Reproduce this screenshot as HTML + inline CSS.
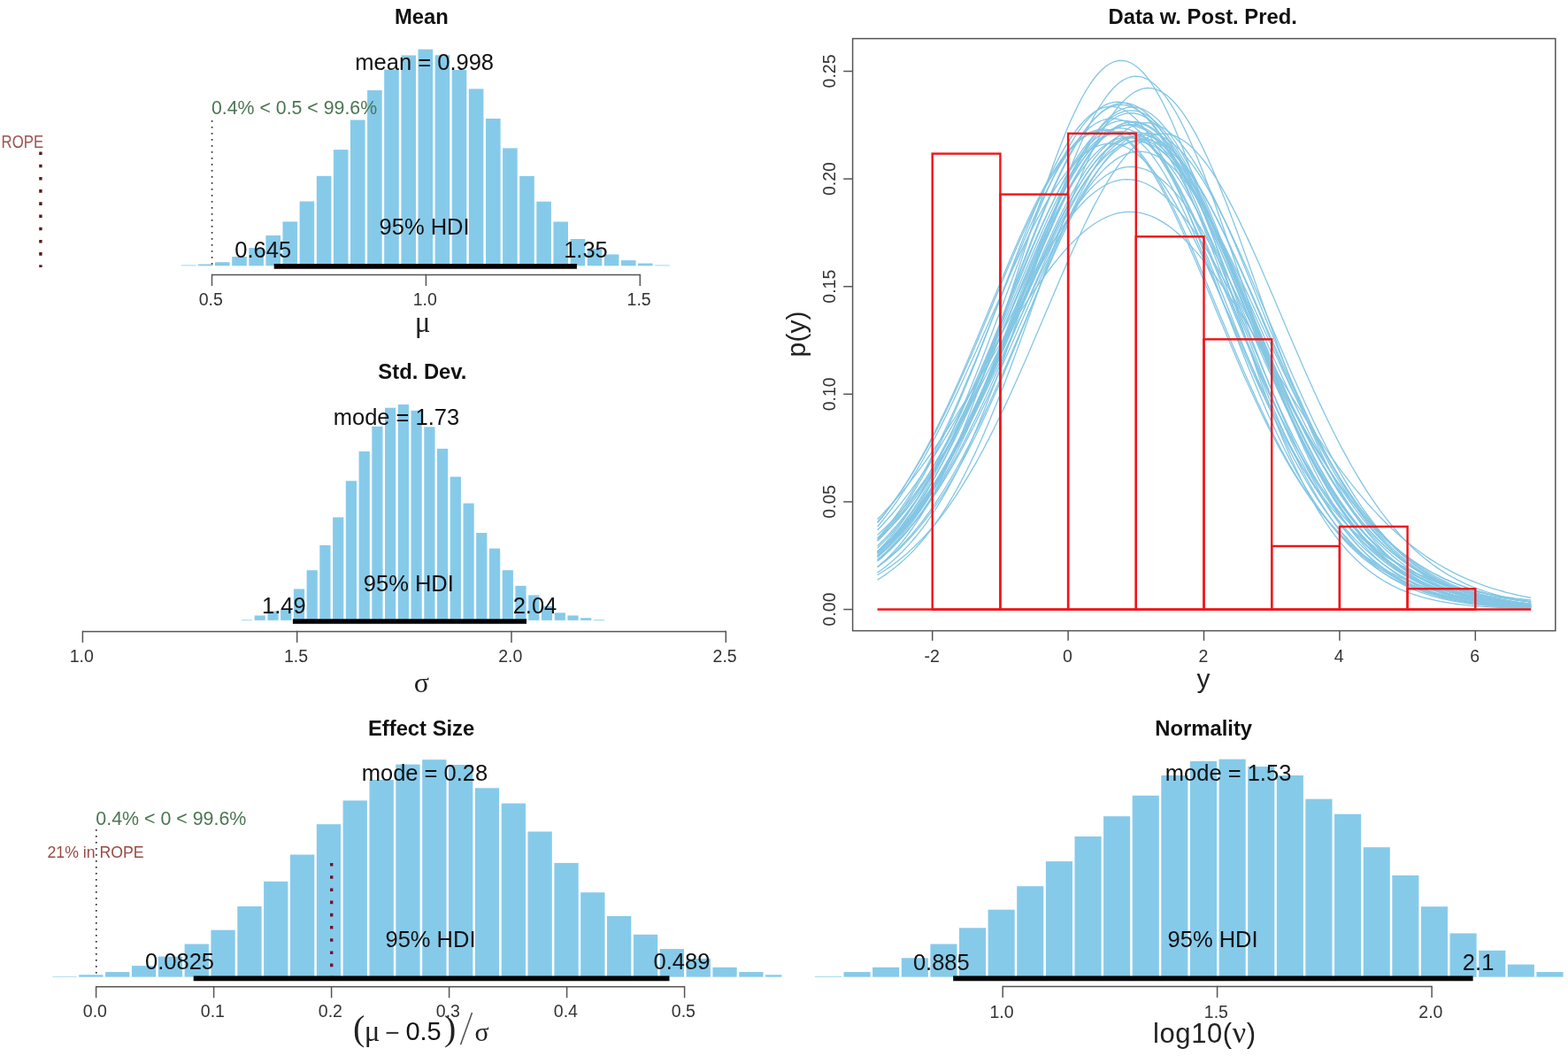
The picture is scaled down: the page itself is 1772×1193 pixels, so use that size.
<!DOCTYPE html>
<html><head><meta charset="utf-8"><title>Posterior plots</title>
<style>html,body{margin:0;padding:0;background:#fff;}svg{display:block;}</style></head>
<body><svg width="1772" height="1193" viewBox="0 0 1772 1193">
<rect width="1772" height="1193" fill="#fff"/>
<text x="476.4" y="26.5" font-size="23.8" text-anchor="middle" font-weight="bold" fill="#111" font-family="'Liberation Sans', Arial, sans-serif" >Mean</text>
<g fill="#86CAEA"><rect x="204.8" y="299.5" width="16.6" height="0.8"/><rect x="223.9" y="298.5" width="16.6" height="1.8"/><rect x="243.0" y="296.2" width="16.6" height="4.1"/><rect x="262.2" y="290.0" width="16.6" height="10.3"/><rect x="281.3" y="280.0" width="16.6" height="20.3"/><rect x="300.4" y="266.0" width="16.6" height="34.3"/><rect x="319.5" y="250.4" width="16.6" height="49.9"/><rect x="338.6" y="227.5" width="16.6" height="72.8"/><rect x="357.8" y="198.8" width="16.6" height="101.5"/><rect x="376.9" y="169.1" width="16.6" height="131.2"/><rect x="396.0" y="135.5" width="16.6" height="164.8"/><rect x="415.1" y="102.0" width="16.6" height="198.3"/><rect x="434.2" y="78.6" width="16.6" height="221.7"/><rect x="453.4" y="62.5" width="16.6" height="237.8"/><rect x="472.5" y="55.7" width="16.6" height="244.6"/><rect x="491.6" y="62.3" width="16.6" height="238.0"/><rect x="510.7" y="79.0" width="16.6" height="221.3"/><rect x="529.8" y="100.4" width="16.6" height="199.9"/><rect x="549.0" y="134.0" width="16.6" height="166.3"/><rect x="568.1" y="167.4" width="16.6" height="132.9"/><rect x="587.2" y="198.9" width="16.6" height="101.4"/><rect x="606.3" y="227.7" width="16.6" height="72.6"/><rect x="625.4" y="250.5" width="16.6" height="49.8"/><rect x="644.6" y="270.0" width="16.6" height="30.3"/><rect x="663.7" y="281.0" width="16.6" height="19.3"/><rect x="682.8" y="287.4" width="16.6" height="12.9"/><rect x="701.9" y="294.1" width="16.6" height="6.2"/><rect x="721.0" y="297.5" width="16.6" height="2.8"/><rect x="740.2" y="299.5" width="16.6" height="0.8"/></g>
<line x1="239.6" y1="136" x2="239.6" y2="300.5" stroke="#333" stroke-width="1.7" stroke-linecap="butt" stroke-dasharray="1.8 5.2"/>
<text x="239.0" y="129" font-size="21.3" text-anchor="start" font-weight="normal" fill="#4a7652" font-family="'Liberation Sans', Arial, sans-serif" >0.4% &lt; 0.5 &lt; 99.6%</text>
<text x="479.7" y="79" font-size="25.5" text-anchor="middle" font-weight="normal" fill="#111" font-family="'Liberation Sans', Arial, sans-serif" >mean = 0.998</text>
<text x="479.6" y="265.1" font-size="25.5" text-anchor="middle" font-weight="normal" fill="#111" font-family="'Liberation Sans', Arial, sans-serif" >95% HDI</text>
<text x="297.2" y="291" font-size="25.5" text-anchor="middle" font-weight="normal" fill="#111" font-family="'Liberation Sans', Arial, sans-serif" >0.645</text>
<text x="662" y="290.7" font-size="25.5" text-anchor="middle" font-weight="normal" fill="#111" font-family="'Liberation Sans', Arial, sans-serif" >1.35</text>
<line x1="309.7" y1="300.8" x2="651.9" y2="300.8" stroke="#000" stroke-width="5.8"/>
<line x1="239.5" y1="310.5" x2="723.3" y2="310.5" stroke="#555" stroke-width="1.5"/>
<line x1="239.5" y1="309.75" x2="239.5" y2="323.0" stroke="#555" stroke-width="1.5" stroke-linecap="butt"/>
<line x1="481.4" y1="309.75" x2="481.4" y2="323.0" stroke="#555" stroke-width="1.5" stroke-linecap="butt"/>
<line x1="723.3" y1="309.75" x2="723.3" y2="323.0" stroke="#555" stroke-width="1.5" stroke-linecap="butt"/>
<text x="238.3" y="345.2" font-size="19.5" text-anchor="middle" font-weight="normal" fill="#333" font-family="'Liberation Sans', Arial, sans-serif" >0.5</text>
<text x="480.2" y="345.2" font-size="19.5" text-anchor="middle" font-weight="normal" fill="#333" font-family="'Liberation Sans', Arial, sans-serif" >1.0</text>
<text x="722.1" y="345.2" font-size="19.5" text-anchor="middle" font-weight="normal" fill="#333" font-family="'Liberation Sans', Arial, sans-serif" >1.5</text>
<text x="477.5" y="374.5" font-size="33" text-anchor="middle" font-weight="normal" fill="#222" font-family="'Liberation Serif', 'Times New Roman', serif" >μ</text>
<text x="1.6" y="166.6" font-size="19.6" text-anchor="start" font-weight="normal" fill="#9a5550" font-family="'Liberation Sans', Arial, sans-serif" textLength="47.5" lengthAdjust="spacingAndGlyphs">ROPE</text>
<line x1="45.9" y1="171.5" x2="45.9" y2="302" stroke="#5a1a1a" stroke-width="3.4" stroke-linecap="butt" stroke-dasharray="3.6 10.6"/>
<text x="477.4" y="427.7" font-size="23.8" text-anchor="middle" font-weight="bold" fill="#111" font-family="'Liberation Sans', Arial, sans-serif" >Std. Dev.</text>
<g fill="#86CAEA"><rect x="272.9" y="700.1" width="12.2" height="0.7"/><rect x="287.6" y="695.4" width="12.2" height="5.4"/><rect x="302.4" y="690.5" width="12.2" height="10.3"/><rect x="317.1" y="687.5" width="12.2" height="13.3"/><rect x="331.9" y="665.4" width="12.2" height="35.4"/><rect x="346.6" y="644.2" width="12.2" height="56.6"/><rect x="361.3" y="616.0" width="12.2" height="84.8"/><rect x="376.1" y="584.4" width="12.2" height="116.4"/><rect x="390.8" y="543.3" width="12.2" height="157.5"/><rect x="405.6" y="510.0" width="12.2" height="190.8"/><rect x="420.3" y="481.8" width="12.2" height="219.0"/><rect x="435.0" y="460.7" width="12.2" height="240.1"/><rect x="449.8" y="456.9" width="12.2" height="243.9"/><rect x="464.5" y="463.8" width="12.2" height="237.0"/><rect x="479.3" y="482.3" width="12.2" height="218.5"/><rect x="494.0" y="506.9" width="12.2" height="193.9"/><rect x="508.7" y="538.6" width="12.2" height="162.2"/><rect x="523.5" y="568.6" width="12.2" height="132.2"/><rect x="538.2" y="602.0" width="12.2" height="98.8"/><rect x="553.0" y="619.6" width="12.2" height="81.2"/><rect x="567.7" y="644.2" width="12.2" height="56.6"/><rect x="582.4" y="661.8" width="12.2" height="39.0"/><rect x="597.2" y="672.4" width="12.2" height="28.4"/><rect x="611.9" y="685.0" width="12.2" height="15.8"/><rect x="626.7" y="692.3" width="12.2" height="8.5"/><rect x="641.4" y="695.4" width="12.2" height="5.4"/><rect x="656.1" y="698.2" width="12.2" height="2.6"/><rect x="670.9" y="700.0" width="12.2" height="0.8"/></g>
<text x="448" y="480.1" font-size="25.5" text-anchor="middle" font-weight="normal" fill="#111" font-family="'Liberation Sans', Arial, sans-serif" >mode = 1.73</text>
<text x="461.8" y="668.4" font-size="25.5" text-anchor="middle" font-weight="normal" fill="#111" font-family="'Liberation Sans', Arial, sans-serif" >95% HDI</text>
<text x="320.8" y="692.5" font-size="25.5" text-anchor="middle" font-weight="normal" fill="#111" font-family="'Liberation Sans', Arial, sans-serif" >1.49</text>
<text x="604.5" y="692.5" font-size="25.5" text-anchor="middle" font-weight="normal" fill="#111" font-family="'Liberation Sans', Arial, sans-serif" >2.04</text>
<line x1="330.9" y1="702" x2="595" y2="702" stroke="#000" stroke-width="5.6"/>
<line x1="93.4" y1="713.4" x2="820.3" y2="713.4" stroke="#555" stroke-width="1.5"/>
<line x1="93.4" y1="712.65" x2="93.4" y2="725.9" stroke="#555" stroke-width="1.5" stroke-linecap="butt"/>
<line x1="335.7" y1="712.65" x2="335.7" y2="725.9" stroke="#555" stroke-width="1.5" stroke-linecap="butt"/>
<line x1="578.0" y1="712.65" x2="578.0" y2="725.9" stroke="#555" stroke-width="1.5" stroke-linecap="butt"/>
<line x1="820.3" y1="712.65" x2="820.3" y2="725.9" stroke="#555" stroke-width="1.5" stroke-linecap="butt"/>
<text x="92.2" y="747.9" font-size="19.5" text-anchor="middle" font-weight="normal" fill="#333" font-family="'Liberation Sans', Arial, sans-serif" >1.0</text>
<text x="334.5" y="747.9" font-size="19.5" text-anchor="middle" font-weight="normal" fill="#333" font-family="'Liberation Sans', Arial, sans-serif" >1.5</text>
<text x="576.8" y="747.9" font-size="19.5" text-anchor="middle" font-weight="normal" fill="#333" font-family="'Liberation Sans', Arial, sans-serif" >2.0</text>
<text x="819.1" y="747.9" font-size="19.5" text-anchor="middle" font-weight="normal" fill="#333" font-family="'Liberation Sans', Arial, sans-serif" >2.5</text>
<text x="476.4" y="781.6" font-size="32" text-anchor="middle" font-weight="normal" fill="#222" font-family="'Liberation Serif', 'Times New Roman', serif" >σ</text>
<text x="476.1" y="831.2" font-size="23.8" text-anchor="middle" font-weight="bold" fill="#111" font-family="'Liberation Sans', Arial, sans-serif" >Effect Size</text>
<g fill="#86CAEA"><rect x="59.4" y="1103.1" width="27.3" height="0.6"/><rect x="89.2" y="1101.3" width="27.3" height="2.4"/><rect x="119.1" y="1098.1" width="27.3" height="5.6"/><rect x="148.9" y="1091.1" width="27.3" height="12.6"/><rect x="178.8" y="1080.6" width="27.3" height="23.1"/><rect x="208.6" y="1066.5" width="27.3" height="37.2"/><rect x="238.4" y="1050.7" width="27.3" height="53.0"/><rect x="268.3" y="1024.0" width="27.3" height="79.7"/><rect x="298.1" y="995.8" width="27.3" height="107.9"/><rect x="328.0" y="965.5" width="27.3" height="138.2"/><rect x="357.8" y="931.2" width="27.3" height="172.5"/><rect x="387.6" y="904.4" width="27.3" height="199.3"/><rect x="417.5" y="881.0" width="27.3" height="222.7"/><rect x="447.3" y="863.6" width="27.3" height="240.1"/><rect x="477.2" y="858.2" width="27.3" height="245.5"/><rect x="507.0" y="864.0" width="27.3" height="239.7"/><rect x="536.8" y="890.3" width="27.3" height="213.4"/><rect x="566.7" y="907.6" width="27.3" height="196.1"/><rect x="596.5" y="939.5" width="27.3" height="164.2"/><rect x="626.4" y="974.9" width="27.3" height="128.8"/><rect x="656.2" y="1008.2" width="27.3" height="95.5"/><rect x="686.0" y="1035.0" width="27.3" height="68.7"/><rect x="715.9" y="1055.8" width="27.3" height="47.9"/><rect x="745.7" y="1072.1" width="27.3" height="31.6"/><rect x="775.6" y="1083.0" width="27.3" height="20.7"/><rect x="805.4" y="1092.8" width="27.3" height="10.9"/><rect x="835.2" y="1098.1" width="27.3" height="5.6"/><rect x="865.1" y="1101.3" width="18.3" height="2.4"/></g>
<line x1="108.8" y1="937" x2="108.8" y2="1104" stroke="#333" stroke-width="1.7" stroke-linecap="butt" stroke-dasharray="1.8 5.2"/>
<text x="108.3" y="931.9" font-size="21.4" text-anchor="start" font-weight="normal" fill="#4a7652" font-family="'Liberation Sans', Arial, sans-serif" >0.4% &lt; 0 &lt; 99.6%</text>
<text x="108.1" y="968.8" font-size="17.7" text-anchor="middle" font-weight="normal" fill="#9a4a44" font-family="'Liberation Sans', Arial, sans-serif" >21% in ROPE</text>
<line x1="374.7" y1="975" x2="374.7" y2="1105" stroke="#6e1530" stroke-width="3.4" stroke-linecap="butt" stroke-dasharray="3.6 10.6"/>
<text x="480" y="882.2" font-size="25.5" text-anchor="middle" font-weight="normal" fill="#111" font-family="'Liberation Sans', Arial, sans-serif" >mode = 0.28</text>
<text x="486.5" y="1069.7" font-size="25.5" text-anchor="middle" font-weight="normal" fill="#111" font-family="'Liberation Sans', Arial, sans-serif" >95% HDI</text>
<text x="203" y="1095.2" font-size="25.5" text-anchor="middle" font-weight="normal" fill="#111" font-family="'Liberation Sans', Arial, sans-serif" >0.0825</text>
<text x="770.5" y="1095.2" font-size="25.5" text-anchor="middle" font-weight="normal" fill="#111" font-family="'Liberation Sans', Arial, sans-serif" >0.489</text>
<line x1="218.7" y1="1105.4" x2="756.5" y2="1105.4" stroke="#000" stroke-width="5.6"/>
<line x1="108.6" y1="1114.8" x2="773.6" y2="1114.8" stroke="#555" stroke-width="1.5"/>
<line x1="108.6" y1="1114.05" x2="108.6" y2="1127.3" stroke="#555" stroke-width="1.5" stroke-linecap="butt"/>
<line x1="241.6" y1="1114.05" x2="241.6" y2="1127.3" stroke="#555" stroke-width="1.5" stroke-linecap="butt"/>
<line x1="374.6" y1="1114.05" x2="374.6" y2="1127.3" stroke="#555" stroke-width="1.5" stroke-linecap="butt"/>
<line x1="507.6" y1="1114.05" x2="507.6" y2="1127.3" stroke="#555" stroke-width="1.5" stroke-linecap="butt"/>
<line x1="640.6" y1="1114.05" x2="640.6" y2="1127.3" stroke="#555" stroke-width="1.5" stroke-linecap="butt"/>
<line x1="773.6" y1="1114.05" x2="773.6" y2="1127.3" stroke="#555" stroke-width="1.5" stroke-linecap="butt"/>
<text x="107.4" y="1149" font-size="19.5" text-anchor="middle" font-weight="normal" fill="#333" font-family="'Liberation Sans', Arial, sans-serif" >0.0</text>
<text x="240.4" y="1149" font-size="19.5" text-anchor="middle" font-weight="normal" fill="#333" font-family="'Liberation Sans', Arial, sans-serif" >0.1</text>
<text x="373.4" y="1149" font-size="19.5" text-anchor="middle" font-weight="normal" fill="#333" font-family="'Liberation Sans', Arial, sans-serif" >0.2</text>
<text x="506.4" y="1149" font-size="19.5" text-anchor="middle" font-weight="normal" fill="#333" font-family="'Liberation Sans', Arial, sans-serif" >0.3</text>
<text x="639.4" y="1149" font-size="19.5" text-anchor="middle" font-weight="normal" fill="#333" font-family="'Liberation Sans', Arial, sans-serif" >0.4</text>
<text x="772.4" y="1149" font-size="19.5" text-anchor="middle" font-weight="normal" fill="#333" font-family="'Liberation Sans', Arial, sans-serif" >0.5</text>
<text x="399" y="1175" font-size="40" font-family="'Liberation Serif', 'Times New Roman', serif" fill="#222" transform="translate(399 1178) scale(1 1.0) translate(-399 -1178)">(</text>
<text x="420.6" y="1175.5" font-size="33" text-anchor="middle" font-weight="normal" fill="#222" font-family="'Liberation Serif', 'Times New Roman', serif" >μ</text>
<text x="443.5" y="1175.5" font-size="28" text-anchor="middle" font-weight="normal" fill="#333" font-family="'Liberation Sans', Arial, sans-serif" >−</text>
<text x="478.6" y="1175.1" font-size="29" text-anchor="middle" font-weight="normal" fill="#111" font-family="'Liberation Sans', Arial, sans-serif" >0.5</text>
<text x="502" y="1175" font-size="40" font-family="'Liberation Serif', 'Times New Roman', serif" fill="#222">)</text>
<line x1="533.5" y1="1144" x2="520.5" y2="1180.2" stroke="#555" stroke-width="1.6"/>
<text x="544.5" y="1175.7" font-size="30" text-anchor="middle" font-weight="normal" fill="#222" font-family="'Liberation Serif', 'Times New Roman', serif" >σ</text>
<text x="1360.2" y="830.5" font-size="23.8" text-anchor="middle" font-weight="bold" fill="#111" font-family="'Liberation Sans', Arial, sans-serif" >Normality</text>
<g fill="#86CAEA"><rect x="920.9" y="1103.0" width="30.1" height="0.7"/><rect x="953.5" y="1098.1" width="30.1" height="5.6"/><rect x="986.1" y="1092.8" width="30.1" height="10.9"/><rect x="1018.8" y="1082.3" width="30.1" height="21.4"/><rect x="1051.4" y="1066.5" width="30.1" height="37.2"/><rect x="1084.0" y="1048.3" width="30.1" height="55.4"/><rect x="1116.6" y="1027.7" width="30.1" height="76.0"/><rect x="1149.2" y="1001.2" width="30.1" height="102.5"/><rect x="1181.9" y="973.1" width="30.1" height="130.6"/><rect x="1214.5" y="945.0" width="30.1" height="158.7"/><rect x="1247.1" y="922.2" width="30.1" height="181.5"/><rect x="1279.7" y="898.8" width="30.1" height="204.9"/><rect x="1312.3" y="876.0" width="30.1" height="227.7"/><rect x="1345.0" y="860.0" width="30.1" height="243.7"/><rect x="1377.6" y="857.7" width="30.1" height="246.0"/><rect x="1410.2" y="866.0" width="30.1" height="237.7"/><rect x="1442.8" y="876.0" width="30.1" height="227.7"/><rect x="1475.4" y="902.7" width="30.1" height="201.0"/><rect x="1508.1" y="919.7" width="30.1" height="184.0"/><rect x="1540.7" y="957.2" width="30.1" height="146.5"/><rect x="1573.3" y="989.0" width="30.1" height="114.7"/><rect x="1605.9" y="1024.2" width="30.1" height="79.5"/><rect x="1638.5" y="1054.4" width="30.1" height="49.3"/><rect x="1671.2" y="1073.8" width="30.1" height="29.9"/><rect x="1703.8" y="1089.6" width="30.1" height="14.1"/><rect x="1736.4" y="1098.1" width="30.1" height="5.6"/></g>
<text x="1388.1" y="881.8" font-size="25.5" text-anchor="middle" font-weight="normal" fill="#111" font-family="'Liberation Sans', Arial, sans-serif" >mode = 1.53</text>
<text x="1370.6" y="1069.7" font-size="25.5" text-anchor="middle" font-weight="normal" fill="#111" font-family="'Liberation Sans', Arial, sans-serif" >95% HDI</text>
<text x="1063.8" y="1095.7" font-size="25.5" text-anchor="middle" font-weight="normal" fill="#111" font-family="'Liberation Sans', Arial, sans-serif" >0.885</text>
<text x="1670.6" y="1095.7" font-size="25.5" text-anchor="middle" font-weight="normal" fill="#111" font-family="'Liberation Sans', Arial, sans-serif" >2.1</text>
<line x1="1077.2" y1="1105.4" x2="1664.6" y2="1105.4" stroke="#000" stroke-width="5.6"/>
<line x1="1133.2" y1="1114.6" x2="1618.1" y2="1114.6" stroke="#555" stroke-width="1.5"/>
<line x1="1133.2" y1="1113.85" x2="1133.2" y2="1127.1" stroke="#555" stroke-width="1.5" stroke-linecap="butt"/>
<line x1="1375.6" y1="1113.85" x2="1375.6" y2="1127.1" stroke="#555" stroke-width="1.5" stroke-linecap="butt"/>
<line x1="1618.1" y1="1113.85" x2="1618.1" y2="1127.1" stroke="#555" stroke-width="1.5" stroke-linecap="butt"/>
<text x="1132.0" y="1149.8" font-size="19.5" text-anchor="middle" font-weight="normal" fill="#333" font-family="'Liberation Sans', Arial, sans-serif" >1.0</text>
<text x="1374.4" y="1149.8" font-size="19.5" text-anchor="middle" font-weight="normal" fill="#333" font-family="'Liberation Sans', Arial, sans-serif" >1.5</text>
<text x="1616.9" y="1149.8" font-size="19.5" text-anchor="middle" font-weight="normal" fill="#333" font-family="'Liberation Sans', Arial, sans-serif" >2.0</text>
<text x="1303.0" y="1177.9" font-size="31" textLength="116" lengthAdjust="spacing" fill="#222" font-family="'Liberation Sans', Arial, sans-serif">log10(<tspan font-family="'Liberation Serif', 'Times New Roman', serif" font-size="34">ν</tspan>)</text>
<text x="1359.2" y="26.8" font-size="23.8" text-anchor="middle" font-weight="bold" fill="#111" font-family="'Liberation Sans', Arial, sans-serif" >Data w. Post. Pred.</text>
<g fill="none" stroke="#84c6e4" stroke-width="1.3"><polyline points="991.6,640.8 996.2,636.8 1000.8,632.6 1005.4,628.0 1010.0,623.1 1014.7,618.0 1019.3,612.5 1023.9,606.7 1028.5,600.5 1033.1,594.0 1037.7,587.1 1042.4,579.8 1047.0,572.2 1051.6,564.1 1056.2,555.7 1060.8,546.8 1065.4,537.6 1070.1,528.0 1074.7,517.9 1079.3,507.5 1083.9,496.6 1088.5,485.4 1093.1,473.8 1097.7,461.8 1102.4,449.5 1107.0,436.8 1111.6,423.9 1116.2,410.6 1120.8,397.1 1125.4,383.3 1130.1,369.3 1134.7,355.2 1139.3,340.9 1143.9,326.5 1148.5,312.0 1153.1,297.5 1157.8,283.1 1162.4,268.7 1167.0,254.4 1171.6,240.3 1176.2,226.5 1180.8,212.9 1185.5,199.6 1190.1,186.7 1194.7,174.2 1199.3,162.2 1203.9,150.7 1208.5,139.8 1213.2,129.6 1217.8,119.9 1222.4,111.0 1227.0,102.9 1231.6,95.5 1236.2,89.0 1240.9,83.3 1245.5,78.5 1250.1,74.6 1254.7,71.7 1259.3,69.6 1263.9,68.5 1268.6,68.4 1273.2,69.2 1277.8,71.0 1282.4,73.7 1287.0,77.3 1291.6,81.8 1296.3,87.3 1300.9,93.5 1305.5,100.7 1310.1,108.6 1314.7,117.3 1319.3,126.7 1324.0,136.7 1328.6,147.5 1333.2,158.8 1337.8,170.6 1342.4,183.0 1347.0,195.8 1351.7,208.9 1356.3,222.4 1360.9,236.2 1365.5,250.3 1370.1,264.5 1374.7,278.8 1379.3,293.3 1384.0,307.8 1388.6,322.2 1393.2,336.6 1397.8,351.0 1402.4,365.2 1407.0,379.2 1411.7,393.0 1416.3,406.6 1420.9,420.0 1425.5,433.0 1430.1,445.8 1434.7,458.2 1439.4,470.3 1444.0,482.0 1448.6,493.4 1453.2,504.3 1457.8,514.9 1462.4,525.0 1467.1,534.8 1471.7,544.2 1476.3,553.1 1480.9,561.7 1485.5,569.8 1490.1,577.6 1494.8,585.0 1499.4,592.0 1504.0,598.6 1508.6,604.9 1513.2,610.8 1517.8,616.4 1522.5,621.7 1527.1,626.6 1531.7,631.2 1536.3,635.6 1540.9,639.7 1545.5,643.5 1550.2,647.0 1554.8,650.3 1559.4,653.4 1564.0,656.3 1568.6,658.9 1573.2,661.4 1577.9,663.7 1582.5,665.8 1587.1,667.7 1591.7,669.5 1596.3,671.2 1600.9,672.7 1605.6,674.1 1610.2,675.4 1614.8,676.6 1619.4,677.7 1624.0,678.7 1628.6,679.6 1633.2,680.4 1637.9,681.2 1642.5,681.9 1647.1,682.5 1651.7,683.1 1656.3,683.6 1660.9,684.1 1665.6,684.5 1670.2,684.9 1674.8,685.3 1679.4,685.6 1684.0,685.9 1688.6,686.2 1693.3,686.4 1697.9,686.6 1702.5,686.8 1707.1,687.0 1711.7,687.1 1716.3,687.3 1721.0,687.4 1725.6,687.5 1730.2,687.6"/><polyline points="991.6,646.9 996.2,643.7 1000.8,640.2 1005.4,636.4 1010.0,632.4 1014.7,628.2 1019.3,623.7 1023.9,618.9 1028.5,613.9 1033.1,608.5 1037.7,602.9 1042.4,596.9 1047.0,590.6 1051.6,583.9 1056.2,577.0 1060.8,569.6 1065.4,561.9 1070.1,553.9 1074.7,545.5 1079.3,536.7 1083.9,527.5 1088.5,518.0 1093.1,508.2 1097.7,497.9 1102.4,487.3 1107.0,476.4 1111.6,465.1 1116.2,453.5 1120.8,441.6 1125.4,429.4 1130.1,416.9 1134.7,404.2 1139.3,391.3 1143.9,378.1 1148.5,364.8 1153.1,351.3 1157.8,337.7 1162.4,324.1 1167.0,310.4 1171.6,296.8 1176.2,283.1 1180.8,269.6 1185.5,256.2 1190.1,243.0 1194.7,230.1 1199.3,217.4 1203.9,205.0 1208.5,193.0 1213.2,181.5 1217.8,170.3 1222.4,159.8 1227.0,149.7 1231.6,140.3 1236.2,131.5 1240.9,123.4 1245.5,116.0 1250.1,109.4 1254.7,103.5 1259.3,98.5 1263.9,94.3 1268.6,90.9 1273.2,88.5 1277.8,86.8 1282.4,86.1 1287.0,86.3 1291.6,87.4 1296.3,89.3 1300.9,92.2 1305.5,95.9 1310.1,100.4 1314.7,105.8 1319.3,111.9 1324.0,118.9 1328.6,126.5 1333.2,134.9 1337.8,144.0 1342.4,153.6 1347.0,163.9 1351.7,174.7 1356.3,186.0 1360.9,197.7 1365.5,209.9 1370.1,222.4 1374.7,235.2 1379.3,248.2 1384.0,261.5 1388.6,275.0 1393.2,288.5 1397.8,302.2 1402.4,315.8 1407.0,329.5 1411.7,343.1 1416.3,356.7 1420.9,370.1 1425.5,383.3 1430.1,396.4 1434.7,409.3 1439.4,421.9 1444.0,434.3 1448.6,446.4 1453.2,458.1 1457.8,469.6 1462.4,480.8 1467.1,491.6 1471.7,502.0 1476.3,512.1 1480.9,521.8 1485.5,531.2 1490.1,540.2 1494.8,548.8 1499.4,557.1 1504.0,565.0 1508.6,572.6 1513.2,579.8 1517.8,586.6 1522.5,593.1 1527.1,599.3 1531.7,605.1 1536.3,610.7 1540.9,615.9 1545.5,620.9 1550.2,625.5 1554.8,629.9 1559.4,634.1 1564.0,637.9 1568.6,641.6 1573.2,645.0 1577.9,648.2 1582.5,651.2 1587.1,654.0 1591.7,656.6 1596.3,659.0 1600.9,661.3 1605.6,663.4 1610.2,665.3 1614.8,667.2 1619.4,668.8 1624.0,670.4 1628.6,671.9 1633.2,673.2 1637.9,674.5 1642.5,675.6 1647.1,676.7 1651.7,677.6 1656.3,678.5 1660.9,679.4 1665.6,680.1 1670.2,680.9 1674.8,681.5 1679.4,682.1 1684.0,682.7 1688.6,683.2 1693.3,683.6 1697.9,684.0 1702.5,684.4 1707.1,684.8 1711.7,685.1 1716.3,685.4 1721.0,685.7 1725.6,685.9 1730.2,686.2"/><polyline points="991.6,655.1 996.2,652.2 1000.8,649.1 1005.4,645.8 1010.0,642.3 1014.7,638.6 1019.3,634.6 1023.9,630.4 1028.5,625.9 1033.1,621.1 1037.7,616.0 1042.4,610.7 1047.0,605.0 1051.6,599.0 1056.2,592.7 1060.8,586.1 1065.4,579.1 1070.1,571.8 1074.7,564.2 1079.3,556.2 1083.9,547.9 1088.5,539.2 1093.1,530.2 1097.7,520.8 1102.4,511.1 1107.0,501.1 1111.6,490.7 1116.2,480.0 1120.8,469.1 1125.4,457.8 1130.1,446.2 1134.7,434.4 1139.3,422.3 1143.9,410.1 1148.5,397.6 1153.1,385.0 1157.8,372.2 1162.4,359.3 1167.0,346.3 1171.6,333.2 1176.2,320.2 1180.8,307.1 1185.5,294.2 1190.1,281.3 1194.7,268.5 1199.3,255.9 1203.9,243.6 1208.5,231.4 1213.2,219.6 1217.8,208.2 1222.4,197.1 1227.0,186.4 1231.6,176.2 1236.2,166.4 1240.9,157.3 1245.5,148.6 1250.1,140.6 1254.7,133.2 1259.3,126.5 1263.9,120.5 1268.6,115.2 1273.2,110.7 1277.8,106.9 1282.4,103.8 1287.0,101.6 1291.6,100.1 1296.3,99.5 1300.9,99.7 1305.5,100.6 1310.1,102.4 1314.7,105.0 1319.3,108.3 1324.0,112.5 1328.6,117.3 1333.2,122.9 1337.8,129.2 1342.4,136.2 1347.0,143.9 1351.7,152.1 1356.3,161.0 1360.9,170.4 1365.5,180.3 1370.1,190.8 1374.7,201.6 1379.3,212.9 1384.0,224.5 1388.6,236.4 1393.2,248.7 1397.8,261.1 1402.4,273.8 1407.0,286.6 1411.7,299.5 1416.3,312.5 1420.9,325.6 1425.5,338.6 1430.1,351.7 1434.7,364.6 1439.4,377.5 1444.0,390.2 1448.6,402.8 1453.2,415.2 1457.8,427.4 1462.4,439.3 1467.1,451.0 1471.7,462.5 1476.3,473.6 1480.9,484.5 1485.5,495.1 1490.1,505.3 1494.8,515.2 1499.4,524.8 1504.0,534.0 1508.6,542.9 1513.2,551.4 1517.8,559.6 1522.5,567.4 1527.1,574.9 1531.7,582.1 1536.3,588.9 1540.9,595.4 1545.5,601.5 1550.2,607.4 1554.8,612.9 1559.4,618.2 1564.0,623.1 1568.6,627.8 1573.2,632.2 1577.9,636.3 1582.5,640.2 1587.1,643.8 1591.7,647.2 1596.3,650.4 1600.9,653.4 1605.6,656.2 1610.2,658.8 1614.8,661.2 1619.4,663.4 1624.0,665.5 1628.6,667.4 1633.2,669.2 1637.9,670.9 1642.5,672.4 1647.1,673.8 1651.7,675.1 1656.3,676.3 1660.9,677.4 1665.6,678.4 1670.2,679.3 1674.8,680.2 1679.4,680.9 1684.0,681.6 1688.6,682.3 1693.3,682.9 1697.9,683.4 1702.5,683.9 1707.1,684.4 1711.7,684.8 1716.3,685.1 1721.0,685.5 1725.6,685.8 1730.2,686.1"/><polyline points="991.6,610.4 996.2,605.3 1000.8,600.0 1005.4,594.4 1010.0,588.5 1014.7,582.3 1019.3,575.9 1023.9,569.1 1028.5,562.1 1033.1,554.7 1037.7,547.0 1042.4,539.1 1047.0,530.8 1051.6,522.2 1056.2,513.3 1060.8,504.2 1065.4,494.7 1070.1,484.9 1074.7,474.9 1079.3,464.5 1083.9,453.9 1088.5,443.1 1093.1,432.0 1097.7,420.8 1102.4,409.3 1107.0,397.6 1111.6,385.8 1116.2,373.9 1120.8,361.9 1125.4,349.7 1130.1,337.6 1134.7,325.4 1139.3,313.3 1143.9,301.2 1148.5,289.1 1153.1,277.3 1157.8,265.5 1162.4,254.0 1167.0,242.7 1171.6,231.7 1176.2,221.0 1180.8,210.7 1185.5,200.7 1190.1,191.2 1194.7,182.1 1199.3,173.6 1203.9,165.6 1208.5,158.1 1213.2,151.3 1217.8,145.0 1222.4,139.5 1227.0,134.6 1231.6,130.4 1236.2,126.9 1240.9,124.2 1245.5,122.1 1250.1,120.9 1254.7,120.4 1259.3,120.7 1263.9,121.7 1268.6,123.5 1273.2,126.0 1277.8,129.2 1282.4,133.2 1287.0,137.9 1291.6,143.2 1296.3,149.3 1300.9,155.9 1305.5,163.2 1310.1,171.0 1314.7,179.4 1319.3,188.3 1324.0,197.7 1328.6,207.5 1333.2,217.8 1337.8,228.4 1342.4,239.3 1347.0,250.5 1351.7,261.9 1356.3,273.6 1360.9,285.4 1365.5,297.4 1370.1,309.5 1374.7,321.6 1379.3,333.8 1384.0,346.0 1388.6,358.1 1393.2,370.2 1397.8,382.1 1402.4,394.0 1407.0,405.7 1411.7,417.2 1416.3,428.6 1420.9,439.7 1425.5,450.6 1430.1,461.3 1434.7,471.7 1439.4,481.8 1444.0,491.7 1448.6,501.3 1453.2,510.5 1457.8,519.5 1462.4,528.2 1467.1,536.6 1471.7,544.6 1476.3,552.4 1480.9,559.8 1485.5,567.0 1490.1,573.8 1494.8,580.4 1499.4,586.6 1504.0,592.6 1508.6,598.3 1513.2,603.7 1517.8,608.8 1522.5,613.7 1527.1,618.4 1531.7,622.8 1536.3,626.9 1540.9,630.9 1545.5,634.6 1550.2,638.1 1554.8,641.4 1559.4,644.6 1564.0,647.5 1568.6,650.3 1573.2,652.9 1577.9,655.3 1582.5,657.6 1587.1,659.8 1591.7,661.8 1596.3,663.6 1600.9,665.4 1605.6,667.1 1610.2,668.6 1614.8,670.0 1619.4,671.4 1624.0,672.6 1628.6,673.8 1633.2,674.9 1637.9,675.9 1642.5,676.8 1647.1,677.7 1651.7,678.5 1656.3,679.3 1660.9,680.0 1665.6,680.6 1670.2,681.2 1674.8,681.8 1679.4,682.3 1684.0,682.8 1688.6,683.2 1693.3,683.6 1697.9,684.0 1702.5,684.3 1707.1,684.7 1711.7,685.0 1716.3,685.2 1721.0,685.5 1725.6,685.7 1730.2,686.0"/><polyline points="991.6,598.8 996.2,594.0 1000.8,589.0 1005.4,583.8 1010.0,578.5 1014.7,572.9 1019.3,567.2 1023.9,561.2 1028.5,555.1 1033.1,548.8 1037.7,542.3 1042.4,535.6 1047.0,528.7 1051.6,521.6 1056.2,514.4 1060.8,506.9 1065.4,499.3 1070.1,491.6 1074.7,483.7 1079.3,475.6 1083.9,467.4 1088.5,459.1 1093.1,450.7 1097.7,442.2 1102.4,433.5 1107.0,424.8 1111.6,416.0 1116.2,407.2 1120.8,398.4 1125.4,389.5 1130.1,380.6 1134.7,371.7 1139.3,362.8 1143.9,354.0 1148.5,345.3 1153.1,336.7 1157.8,328.1 1162.4,319.7 1167.0,311.4 1171.6,303.3 1176.2,295.4 1180.8,287.7 1185.5,280.2 1190.1,272.9 1194.7,265.9 1199.3,259.2 1203.9,252.8 1208.5,246.7 1213.2,240.9 1217.8,235.5 1222.4,230.5 1227.0,225.8 1231.6,221.6 1236.2,217.7 1240.9,214.3 1245.5,211.3 1250.1,208.7 1254.7,206.5 1259.3,204.9 1263.9,203.6 1268.6,202.9 1273.2,202.6 1277.8,202.8 1282.4,203.4 1287.0,204.5 1291.6,206.0 1296.3,208.0 1300.9,210.5 1305.5,213.4 1310.1,216.7 1314.7,220.4 1319.3,224.6 1324.0,229.1 1328.6,234.1 1333.2,239.4 1337.8,245.0 1342.4,251.0 1347.0,257.3 1351.7,264.0 1356.3,270.9 1360.9,278.1 1365.5,285.5 1370.1,293.2 1374.7,301.0 1379.3,309.1 1384.0,317.3 1388.6,325.7 1393.2,334.2 1397.8,342.8 1402.4,351.5 1407.0,360.3 1411.7,369.2 1416.3,378.0 1420.9,386.9 1425.5,395.8 1430.1,404.7 1434.7,413.5 1439.4,422.3 1444.0,431.1 1448.6,439.7 1453.2,448.3 1457.8,456.7 1462.4,465.1 1467.1,473.3 1471.7,481.4 1476.3,489.4 1480.9,497.2 1485.5,504.8 1490.1,512.3 1494.8,519.6 1499.4,526.7 1504.0,533.6 1508.6,540.4 1513.2,546.9 1517.8,553.3 1522.5,559.5 1527.1,565.5 1531.7,571.3 1536.3,576.9 1540.9,582.3 1545.5,587.5 1550.2,592.6 1554.8,597.4 1559.4,602.1 1564.0,606.5 1568.6,610.8 1573.2,615.0 1577.9,618.9 1582.5,622.7 1587.1,626.3 1591.7,629.7 1596.3,633.0 1600.9,636.2 1605.6,639.2 1610.2,642.0 1614.8,644.7 1619.4,647.3 1624.0,649.7 1628.6,652.1 1633.2,654.3 1637.9,656.4 1642.5,658.3 1647.1,660.2 1651.7,662.0 1656.3,663.6 1660.9,665.2 1665.6,666.7 1670.2,668.1 1674.8,669.4 1679.4,670.7 1684.0,671.9 1688.6,673.0 1693.3,674.0 1697.9,675.0 1702.5,675.9 1707.1,676.7 1711.7,677.5 1716.3,678.3 1721.0,679.0 1725.6,679.7 1730.2,680.3"/><polyline points="991.6,586.7 996.2,581.9 1000.8,577.0 1005.4,571.9 1010.0,566.7 1014.7,561.3 1019.3,555.8 1023.9,550.1 1028.5,544.3 1033.1,538.3 1037.7,532.2 1042.4,525.9 1047.0,519.5 1051.6,513.0 1056.2,506.4 1060.8,499.6 1065.4,492.7 1070.1,485.7 1074.7,478.6 1079.3,471.5 1083.9,464.2 1088.5,456.8 1093.1,449.4 1097.7,442.0 1102.4,434.4 1107.0,426.9 1111.6,419.3 1116.2,411.7 1120.8,404.1 1125.4,396.5 1130.1,389.0 1134.7,381.4 1139.3,374.0 1143.9,366.5 1148.5,359.2 1153.1,352.0 1157.8,344.8 1162.4,337.8 1167.0,330.9 1171.6,324.2 1176.2,317.6 1180.8,311.2 1185.5,305.0 1190.1,299.0 1194.7,293.3 1199.3,287.7 1203.9,282.4 1208.5,277.4 1213.2,272.6 1217.8,268.1 1222.4,263.9 1227.0,260.0 1231.6,256.5 1236.2,253.2 1240.9,250.3 1245.5,247.7 1250.1,245.4 1254.7,243.5 1259.3,241.9 1263.9,240.7 1268.6,239.9 1273.2,239.4 1277.8,239.3 1282.4,239.6 1287.0,240.2 1291.6,241.2 1296.3,242.5 1300.9,244.2 1305.5,246.2 1310.1,248.6 1314.7,251.4 1319.3,254.4 1324.0,257.8 1328.6,261.5 1333.2,265.5 1337.8,269.8 1342.4,274.4 1347.0,279.3 1351.7,284.4 1356.3,289.8 1360.9,295.5 1365.5,301.3 1370.1,307.4 1374.7,313.7 1379.3,320.2 1384.0,326.8 1388.6,333.6 1393.2,340.5 1397.8,347.6 1402.4,354.8 1407.0,362.0 1411.7,369.4 1416.3,376.8 1420.9,384.3 1425.5,391.9 1430.1,399.5 1434.7,407.0 1439.4,414.6 1444.0,422.2 1448.6,429.8 1453.2,437.3 1457.8,444.9 1462.4,452.3 1467.1,459.7 1471.7,467.0 1476.3,474.2 1480.9,481.4 1485.5,488.5 1490.1,495.4 1494.8,502.2 1499.4,509.0 1504.0,515.6 1508.6,522.0 1513.2,528.4 1517.8,534.6 1522.5,540.6 1527.1,546.6 1531.7,552.3 1536.3,557.9 1540.9,563.4 1545.5,568.7 1550.2,573.9 1554.8,578.9 1559.4,583.8 1564.0,588.5 1568.6,593.1 1573.2,597.5 1577.9,601.7 1582.5,605.8 1587.1,609.8 1591.7,613.6 1596.3,617.3 1600.9,620.8 1605.6,624.2 1610.2,627.5 1614.8,630.6 1619.4,633.6 1624.0,636.5 1628.6,639.2 1633.2,641.9 1637.9,644.4 1642.5,646.8 1647.1,649.1 1651.7,651.3 1656.3,653.3 1660.9,655.3 1665.6,657.2 1670.2,659.0 1674.8,660.7 1679.4,662.3 1684.0,663.9 1688.6,665.3 1693.3,666.7 1697.9,668.0 1702.5,669.3 1707.1,670.4 1711.7,671.5 1716.3,672.6 1721.0,673.6 1725.6,674.5 1730.2,675.4"/><polyline points="991.6,589.7 996.2,584.3 1000.8,578.6 1005.4,572.7 1010.0,566.5 1014.7,560.0 1019.3,553.3 1023.9,546.4 1028.5,539.2 1033.1,531.7 1037.7,523.9 1042.4,515.9 1047.0,507.6 1051.6,499.1 1056.2,490.3 1060.8,481.3 1065.4,472.0 1070.1,462.5 1074.7,452.7 1079.3,442.8 1083.9,432.6 1088.5,422.3 1093.1,411.8 1097.7,401.2 1102.4,390.4 1107.0,379.5 1111.6,368.5 1116.2,357.5 1120.8,346.4 1125.4,335.3 1130.1,324.2 1134.7,313.2 1139.3,302.2 1143.9,291.4 1148.5,280.7 1153.1,270.2 1157.8,259.9 1162.4,249.9 1167.0,240.1 1171.6,230.6 1176.2,221.6 1180.8,212.8 1185.5,204.5 1190.1,196.7 1194.7,189.4 1199.3,182.5 1203.9,176.2 1208.5,170.5 1213.2,165.3 1217.8,160.8 1222.4,156.9 1227.0,153.6 1231.6,151.1 1236.2,149.1 1240.9,147.9 1245.5,147.4 1250.1,147.5 1254.7,148.4 1259.3,149.9 1263.9,152.1 1268.6,155.0 1273.2,158.5 1277.8,162.7 1282.4,167.5 1287.0,172.9 1291.6,178.9 1296.3,185.4 1300.9,192.5 1305.5,200.1 1310.1,208.1 1314.7,216.6 1319.3,225.5 1324.0,234.8 1328.6,244.3 1333.2,254.2 1337.8,264.4 1342.4,274.8 1347.0,285.4 1351.7,296.1 1356.3,307.0 1360.9,318.0 1365.5,329.1 1370.1,340.1 1374.7,351.2 1379.3,362.3 1384.0,373.3 1388.6,384.3 1393.2,395.1 1397.8,405.8 1402.4,416.4 1407.0,426.9 1411.7,437.1 1416.3,447.2 1420.9,457.0 1425.5,466.7 1430.1,476.1 1434.7,485.3 1439.4,494.2 1444.0,502.9 1448.6,511.3 1453.2,519.5 1457.8,527.4 1462.4,535.0 1467.1,542.4 1471.7,549.5 1476.3,556.3 1480.9,562.9 1485.5,569.2 1490.1,575.3 1494.8,581.1 1499.4,586.7 1504.0,592.0 1508.6,597.2 1513.2,602.0 1517.8,606.7 1522.5,611.1 1527.1,615.4 1531.7,619.4 1536.3,623.2 1540.9,626.9 1545.5,630.3 1550.2,633.6 1554.8,636.7 1559.4,639.7 1564.0,642.5 1568.6,645.2 1573.2,647.7 1577.9,650.1 1582.5,652.3 1587.1,654.4 1591.7,656.4 1596.3,658.3 1600.9,660.1 1605.6,661.8 1610.2,663.4 1614.8,664.9 1619.4,666.3 1624.0,667.7 1628.6,668.9 1633.2,670.1 1637.9,671.2 1642.5,672.3 1647.1,673.3 1651.7,674.2 1656.3,675.1 1660.9,675.9 1665.6,676.7 1670.2,677.4 1674.8,678.1 1679.4,678.7 1684.0,679.3 1688.6,679.9 1693.3,680.4 1697.9,680.9 1702.5,681.4 1707.1,681.8 1711.7,682.2 1716.3,682.6 1721.0,683.0 1725.6,683.3 1730.2,683.6"/><polyline points="991.6,623.0 996.2,618.1 1000.8,613.1 1005.4,607.7 1010.0,602.0 1014.7,596.1 1019.3,589.8 1023.9,583.3 1028.5,576.4 1033.1,569.2 1037.7,561.7 1042.4,553.9 1047.0,545.7 1051.6,537.2 1056.2,528.5 1060.8,519.4 1065.4,510.0 1070.1,500.2 1074.7,490.2 1079.3,479.9 1083.9,469.4 1088.5,458.5 1093.1,447.5 1097.7,436.2 1102.4,424.6 1107.0,412.9 1111.6,401.0 1116.2,389.0 1120.8,376.8 1125.4,364.6 1130.1,352.3 1134.7,339.9 1139.3,327.5 1143.9,315.2 1148.5,302.9 1153.1,290.7 1157.8,278.6 1162.4,266.7 1167.0,255.0 1171.6,243.6 1176.2,232.4 1180.8,221.5 1185.5,211.0 1190.1,200.8 1194.7,191.1 1199.3,181.8 1203.9,173.1 1208.5,164.8 1213.2,157.1 1217.8,149.9 1222.4,143.4 1227.0,137.5 1231.6,132.2 1236.2,127.7 1240.9,123.8 1245.5,120.6 1250.1,118.1 1254.7,116.4 1259.3,115.4 1263.9,115.2 1268.6,115.7 1273.2,116.9 1277.8,118.9 1282.4,121.5 1287.0,124.9 1291.6,129.1 1296.3,133.8 1300.9,139.3 1305.5,145.4 1310.1,152.1 1314.7,159.5 1319.3,167.4 1324.0,175.8 1328.6,184.7 1333.2,194.2 1337.8,204.0 1342.4,214.3 1347.0,224.9 1351.7,235.9 1356.3,247.2 1360.9,258.7 1365.5,270.5 1370.1,282.5 1374.7,294.6 1379.3,306.8 1384.0,319.1 1388.6,331.5 1393.2,343.8 1397.8,356.2 1402.4,368.5 1407.0,380.7 1411.7,392.8 1416.3,404.8 1420.9,416.7 1425.5,428.3 1430.1,439.8 1434.7,451.0 1439.4,462.0 1444.0,472.8 1448.6,483.3 1453.2,493.5 1457.8,503.4 1462.4,513.0 1467.1,522.3 1471.7,531.3 1476.3,540.0 1480.9,548.3 1485.5,556.4 1490.1,564.1 1494.8,571.5 1499.4,578.6 1504.0,585.4 1508.6,591.8 1513.2,598.0 1517.8,603.9 1522.5,609.4 1527.1,614.7 1531.7,619.7 1536.3,624.4 1540.9,628.9 1545.5,633.1 1550.2,637.1 1554.8,640.8 1559.4,644.3 1564.0,647.6 1568.6,650.7 1573.2,653.6 1577.9,656.3 1582.5,658.8 1587.1,661.2 1591.7,663.4 1596.3,665.4 1600.9,667.3 1605.6,669.1 1610.2,670.7 1614.8,672.2 1619.4,673.6 1624.0,674.9 1628.6,676.1 1633.2,677.2 1637.9,678.2 1642.5,679.1 1647.1,679.9 1651.7,680.7 1656.3,681.4 1660.9,682.1 1665.6,682.7 1670.2,683.2 1674.8,683.7 1679.4,684.2 1684.0,684.6 1688.6,685.0 1693.3,685.3 1697.9,685.6 1702.5,685.9 1707.1,686.2 1711.7,686.4 1716.3,686.6 1721.0,686.8 1725.6,687.0 1730.2,687.2"/><polyline points="991.6,624.6 996.2,620.7 1000.8,616.5 1005.4,612.1 1010.0,607.5 1014.7,602.7 1019.3,597.6 1023.9,592.3 1028.5,586.8 1033.1,581.0 1037.7,575.0 1042.4,568.7 1047.0,562.2 1051.6,555.4 1056.2,548.4 1060.8,541.1 1065.4,533.6 1070.1,525.8 1074.7,517.7 1079.3,509.4 1083.9,500.9 1088.5,492.1 1093.1,483.1 1097.7,473.8 1102.4,464.4 1107.0,454.7 1111.6,444.9 1116.2,434.8 1120.8,424.6 1125.4,414.3 1130.1,403.8 1134.7,393.3 1139.3,382.6 1143.9,371.9 1148.5,361.1 1153.1,350.3 1157.8,339.5 1162.4,328.7 1167.0,318.0 1171.6,307.4 1176.2,296.9 1180.8,286.6 1185.5,276.4 1190.1,266.4 1194.7,256.7 1199.3,247.2 1203.9,238.1 1208.5,229.2 1213.2,220.8 1217.8,212.7 1222.4,205.0 1227.0,197.8 1231.6,191.0 1236.2,184.8 1240.9,179.0 1245.5,173.8 1250.1,169.2 1254.7,165.1 1259.3,161.6 1263.9,158.7 1268.6,156.5 1273.2,154.8 1277.8,153.8 1282.4,153.5 1287.0,153.7 1291.6,154.6 1296.3,156.2 1300.9,158.3 1305.5,161.1 1310.1,164.5 1314.7,168.5 1319.3,173.0 1324.0,178.2 1328.6,183.8 1333.2,190.0 1337.8,196.7 1342.4,203.8 1347.0,211.4 1351.7,219.5 1356.3,227.9 1360.9,236.7 1365.5,245.8 1370.1,255.2 1374.7,264.9 1379.3,274.8 1384.0,284.9 1388.6,295.3 1393.2,305.7 1397.8,316.3 1402.4,327.0 1407.0,337.8 1411.7,348.6 1416.3,359.4 1420.9,370.2 1425.5,380.9 1430.1,391.6 1434.7,402.2 1439.4,412.7 1444.0,423.0 1448.6,433.2 1453.2,443.3 1457.8,453.2 1462.4,462.9 1467.1,472.3 1471.7,481.6 1476.3,490.7 1480.9,499.5 1485.5,508.1 1490.1,516.4 1494.8,524.5 1499.4,532.3 1504.0,539.9 1508.6,547.3 1513.2,554.3 1517.8,561.1 1522.5,567.7 1527.1,574.0 1531.7,580.1 1536.3,585.9 1540.9,591.5 1545.5,596.8 1550.2,601.9 1554.8,606.7 1559.4,611.4 1564.0,615.8 1568.6,620.0 1573.2,624.0 1577.9,627.8 1582.5,631.5 1587.1,634.9 1591.7,638.1 1596.3,641.2 1600.9,644.1 1605.6,646.9 1610.2,649.5 1614.8,652.0 1619.4,654.3 1624.0,656.5 1628.6,658.6 1633.2,660.5 1637.9,662.3 1642.5,664.0 1647.1,665.7 1651.7,667.2 1656.3,668.6 1660.9,669.9 1665.6,671.2 1670.2,672.4 1674.8,673.5 1679.4,674.5 1684.0,675.5 1688.6,676.4 1693.3,677.2 1697.9,678.0 1702.5,678.7 1707.1,679.4 1711.7,680.0 1716.3,680.6 1721.0,681.2 1725.6,681.7 1730.2,682.2"/><polyline points="991.6,608.4 996.2,603.2 1000.8,597.7 1005.4,591.9 1010.0,585.8 1014.7,579.5 1019.3,572.9 1023.9,566.0 1028.5,558.8 1033.1,551.4 1037.7,543.6 1042.4,535.6 1047.0,527.2 1051.6,518.6 1056.2,509.7 1060.8,500.6 1065.4,491.1 1070.1,481.4 1074.7,471.5 1079.3,461.3 1083.9,450.9 1088.5,440.3 1093.1,429.5 1097.7,418.6 1102.4,407.5 1107.0,396.2 1111.6,384.8 1116.2,373.3 1120.8,361.8 1125.4,350.2 1130.1,338.7 1134.7,327.1 1139.3,315.6 1143.9,304.1 1148.5,292.8 1153.1,281.6 1157.8,270.6 1162.4,259.8 1167.0,249.2 1171.6,238.9 1176.2,228.9 1180.8,219.3 1185.5,210.0 1190.1,201.2 1194.7,192.7 1199.3,184.7 1203.9,177.3 1208.5,170.3 1213.2,163.9 1217.8,158.1 1222.4,152.8 1227.0,148.2 1231.6,144.1 1236.2,140.8 1240.9,138.1 1245.5,136.0 1250.1,134.6 1254.7,134.0 1259.3,134.0 1263.9,134.6 1268.6,136.0 1273.2,138.0 1277.8,140.7 1282.4,144.1 1287.0,148.1 1291.6,152.7 1296.3,158.0 1300.9,163.8 1305.5,170.2 1310.1,177.2 1314.7,184.6 1319.3,192.6 1324.0,201.0 1328.6,209.9 1333.2,219.2 1337.8,228.8 1342.4,238.8 1347.0,249.1 1351.7,259.6 1356.3,270.4 1360.9,281.4 1365.5,292.6 1370.1,304.0 1374.7,315.4 1379.3,326.9 1384.0,338.5 1388.6,350.1 1393.2,361.6 1397.8,373.2 1402.4,384.6 1407.0,396.0 1411.7,407.3 1416.3,418.4 1420.9,429.4 1425.5,440.2 1430.1,450.8 1434.7,461.2 1439.4,471.3 1444.0,481.3 1448.6,491.0 1453.2,500.4 1457.8,509.6 1462.4,518.5 1467.1,527.1 1471.7,535.4 1476.3,543.5 1480.9,551.2 1485.5,558.7 1490.1,565.9 1494.8,572.8 1499.4,579.4 1504.0,585.7 1508.6,591.8 1513.2,597.6 1517.8,603.1 1522.5,608.3 1527.1,613.3 1531.7,618.1 1536.3,622.6 1540.9,626.9 1545.5,630.9 1550.2,634.7 1554.8,638.3 1559.4,641.7 1564.0,645.0 1568.6,648.0 1573.2,650.8 1577.9,653.5 1582.5,656.0 1587.1,658.4 1591.7,660.6 1596.3,662.6 1600.9,664.5 1605.6,666.3 1610.2,668.0 1614.8,669.6 1619.4,671.0 1624.0,672.4 1628.6,673.6 1633.2,674.8 1637.9,675.9 1642.5,676.9 1647.1,677.8 1651.7,678.7 1656.3,679.5 1660.9,680.3 1665.6,680.9 1670.2,681.6 1674.8,682.1 1679.4,682.7 1684.0,683.2 1688.6,683.6 1693.3,684.0 1697.9,684.4 1702.5,684.8 1707.1,685.1 1711.7,685.4 1716.3,685.7 1721.0,685.9 1725.6,686.2 1730.2,686.4"/><polyline points="991.6,616.7 996.2,612.3 1000.8,607.6 1005.4,602.6 1010.0,597.5 1014.7,592.1 1019.3,586.5 1023.9,580.6 1028.5,574.5 1033.1,568.1 1037.7,561.5 1042.4,554.6 1047.0,547.5 1051.6,540.1 1056.2,532.5 1060.8,524.6 1065.4,516.5 1070.1,508.1 1074.7,499.5 1079.3,490.6 1083.9,481.5 1088.5,472.2 1093.1,462.7 1097.7,453.1 1102.4,443.2 1107.0,433.1 1111.6,422.9 1116.2,412.6 1120.8,402.2 1125.4,391.6 1130.1,381.0 1134.7,370.3 1139.3,359.6 1143.9,348.9 1148.5,338.2 1153.1,327.5 1157.8,316.9 1162.4,306.5 1167.0,296.1 1171.6,285.9 1176.2,275.8 1180.8,266.0 1185.5,256.5 1190.1,247.2 1194.7,238.2 1199.3,229.5 1203.9,221.2 1208.5,213.2 1213.2,205.7 1217.8,198.7 1222.4,192.0 1227.0,185.9 1231.6,180.3 1236.2,175.2 1240.9,170.6 1245.5,166.6 1250.1,163.2 1254.7,160.4 1259.3,158.2 1263.9,156.6 1268.6,155.6 1273.2,155.2 1277.8,155.4 1282.4,156.3 1287.0,157.8 1291.6,159.8 1296.3,162.5 1300.9,165.8 1305.5,169.6 1310.1,174.1 1314.7,179.0 1319.3,184.5 1324.0,190.6 1328.6,197.1 1333.2,204.0 1337.8,211.5 1342.4,219.3 1347.0,227.5 1351.7,236.1 1356.3,245.0 1360.9,254.3 1365.5,263.8 1370.1,273.5 1374.7,283.5 1379.3,293.7 1384.0,304.0 1388.6,314.5 1393.2,325.0 1397.8,335.7 1402.4,346.4 1407.0,357.1 1411.7,367.8 1416.3,378.5 1420.9,389.1 1425.5,399.7 1430.1,410.2 1434.7,420.5 1439.4,430.8 1444.0,440.8 1448.6,450.8 1453.2,460.5 1457.8,470.0 1462.4,479.4 1467.1,488.5 1471.7,497.4 1476.3,506.1 1480.9,514.5 1485.5,522.7 1490.1,530.7 1494.8,538.4 1499.4,545.8 1504.0,553.0 1508.6,559.9 1513.2,566.6 1517.8,573.0 1522.5,579.2 1527.1,585.1 1531.7,590.8 1536.3,596.3 1540.9,601.5 1545.5,606.4 1550.2,611.2 1554.8,615.7 1559.4,620.0 1564.0,624.1 1568.6,628.0 1573.2,631.7 1577.9,635.2 1582.5,638.5 1587.1,641.7 1591.7,644.6 1596.3,647.4 1600.9,650.1 1605.6,652.6 1610.2,655.0 1614.8,657.2 1619.4,659.3 1624.0,661.2 1628.6,663.1 1633.2,664.8 1637.9,666.5 1642.5,668.0 1647.1,669.4 1651.7,670.8 1656.3,672.0 1660.9,673.2 1665.6,674.3 1670.2,675.3 1674.8,676.3 1679.4,677.1 1684.0,678.0 1688.6,678.8 1693.3,679.5 1697.9,680.1 1702.5,680.8 1707.1,681.3 1711.7,681.9 1716.3,682.4 1721.0,682.8 1725.6,683.3 1730.2,683.7"/><polyline points="991.6,640.4 996.2,636.8 1000.8,633.1 1005.4,629.1 1010.0,624.9 1014.7,620.5 1019.3,615.8 1023.9,610.9 1028.5,605.8 1033.1,600.4 1037.7,594.8 1042.4,588.9 1047.0,582.7 1051.6,576.3 1056.2,569.6 1060.8,562.7 1065.4,555.5 1070.1,548.0 1074.7,540.3 1079.3,532.3 1083.9,524.0 1088.5,515.5 1093.1,506.7 1097.7,497.7 1102.4,488.5 1107.0,479.1 1111.6,469.4 1116.2,459.5 1120.8,449.5 1125.4,439.3 1130.1,428.9 1134.7,418.4 1139.3,407.8 1143.9,397.1 1148.5,386.3 1153.1,375.4 1157.8,364.5 1162.4,353.6 1167.0,342.7 1171.6,331.9 1176.2,321.1 1180.8,310.4 1185.5,299.9 1190.1,289.5 1194.7,279.2 1199.3,269.2 1203.9,259.4 1208.5,249.8 1213.2,240.6 1217.8,231.7 1222.4,223.1 1227.0,214.8 1231.6,207.0 1236.2,199.6 1240.9,192.6 1245.5,186.1 1250.1,180.1 1254.7,174.6 1259.3,169.6 1263.9,165.2 1268.6,161.3 1273.2,158.0 1277.8,155.3 1282.4,153.1 1287.0,151.6 1291.6,150.6 1296.3,150.3 1300.9,150.6 1305.5,151.4 1310.1,152.9 1314.7,155.0 1319.3,157.7 1324.0,160.9 1328.6,164.7 1333.2,169.1 1337.8,174.0 1342.4,179.5 1347.0,185.4 1351.7,191.9 1356.3,198.8 1360.9,206.1 1365.5,213.9 1370.1,222.1 1374.7,230.7 1379.3,239.6 1384.0,248.8 1388.6,258.3 1393.2,268.1 1397.8,278.1 1402.4,288.3 1407.0,298.7 1411.7,309.2 1416.3,319.9 1420.9,330.7 1425.5,341.5 1430.1,352.4 1434.7,363.3 1439.4,374.2 1444.0,385.0 1448.6,395.8 1453.2,406.6 1457.8,417.2 1462.4,427.7 1467.1,438.1 1471.7,448.3 1476.3,458.4 1480.9,468.3 1485.5,478.0 1490.1,487.4 1494.8,496.7 1499.4,505.7 1504.0,514.5 1508.6,523.0 1513.2,531.3 1517.8,539.4 1522.5,547.1 1527.1,554.6 1531.7,561.9 1536.3,568.9 1540.9,575.6 1545.5,582.0 1550.2,588.2 1554.8,594.1 1559.4,599.8 1564.0,605.2 1568.6,610.4 1573.2,615.3 1577.9,620.0 1582.5,624.4 1587.1,628.6 1591.7,632.6 1596.3,636.4 1600.9,640.0 1605.6,643.4 1610.2,646.5 1614.8,649.5 1619.4,652.4 1624.0,655.0 1628.6,657.5 1633.2,659.8 1637.9,662.0 1642.5,664.0 1647.1,665.9 1651.7,667.7 1656.3,669.4 1660.9,670.9 1665.6,672.3 1670.2,673.7 1674.8,674.9 1679.4,676.0 1684.0,677.1 1688.6,678.1 1693.3,679.0 1697.9,679.8 1702.5,680.6 1707.1,681.3 1711.7,681.9 1716.3,682.5 1721.0,683.1 1725.6,683.6 1730.2,684.0"/><polyline points="991.6,624.3 996.2,620.2 1000.8,615.9 1005.4,611.4 1010.0,606.6 1014.7,601.7 1019.3,596.4 1023.9,591.0 1028.5,585.3 1033.1,579.3 1037.7,573.0 1042.4,566.5 1047.0,559.7 1051.6,552.7 1056.2,545.4 1060.8,537.8 1065.4,529.9 1070.1,521.7 1074.7,513.3 1079.3,504.6 1083.9,495.7 1088.5,486.5 1093.1,477.0 1097.7,467.3 1102.4,457.4 1107.0,447.2 1111.6,436.9 1116.2,426.4 1120.8,415.6 1125.4,404.8 1130.1,393.8 1134.7,382.7 1139.3,371.4 1143.9,360.2 1148.5,348.9 1153.1,337.5 1157.8,326.2 1162.4,315.0 1167.0,303.8 1171.6,292.7 1176.2,281.8 1180.8,271.0 1185.5,260.4 1190.1,250.1 1194.7,240.1 1199.3,230.3 1203.9,220.9 1208.5,211.9 1213.2,203.3 1217.8,195.2 1222.4,187.5 1227.0,180.3 1231.6,173.6 1236.2,167.5 1240.9,162.0 1245.5,157.0 1250.1,152.7 1254.7,149.0 1259.3,146.0 1263.9,143.7 1268.6,142.0 1273.2,141.0 1277.8,140.7 1282.4,141.0 1287.0,142.1 1291.6,143.8 1296.3,146.3 1300.9,149.3 1305.5,153.1 1310.1,157.4 1314.7,162.4 1319.3,168.0 1324.0,174.2 1328.6,180.9 1333.2,188.1 1337.8,195.8 1342.4,204.1 1347.0,212.7 1351.7,221.7 1356.3,231.2 1360.9,240.9 1365.5,251.0 1370.1,261.3 1374.7,271.9 1379.3,282.7 1384.0,293.7 1388.6,304.7 1393.2,315.9 1397.8,327.2 1402.4,338.5 1407.0,349.8 1411.7,361.2 1416.3,372.4 1420.9,383.6 1425.5,394.7 1430.1,405.7 1434.7,416.6 1439.4,427.3 1444.0,437.8 1448.6,448.1 1453.2,458.3 1457.8,468.2 1462.4,477.9 1467.1,487.3 1471.7,496.5 1476.3,505.4 1480.9,514.1 1485.5,522.5 1490.1,530.6 1494.8,538.4 1499.4,546.0 1504.0,553.3 1508.6,560.3 1513.2,567.1 1517.8,573.6 1522.5,579.8 1527.1,585.8 1531.7,591.5 1536.3,596.9 1540.9,602.1 1545.5,607.1 1550.2,611.8 1554.8,616.3 1559.4,620.5 1564.0,624.6 1568.6,628.5 1573.2,632.1 1577.9,635.6 1582.5,638.8 1587.1,641.9 1591.7,644.9 1596.3,647.6 1600.9,650.2 1605.6,652.7 1610.2,655.0 1614.8,657.2 1619.4,659.2 1624.0,661.2 1628.6,663.0 1633.2,664.7 1637.9,666.3 1642.5,667.8 1647.1,669.2 1651.7,670.5 1656.3,671.7 1660.9,672.9 1665.6,673.9 1670.2,674.9 1674.8,675.9 1679.4,676.8 1684.0,677.6 1688.6,678.4 1693.3,679.1 1697.9,679.7 1702.5,680.4 1707.1,680.9 1711.7,681.5 1716.3,682.0 1721.0,682.4 1725.6,682.9 1730.2,683.3"/><polyline points="991.6,625.5 996.2,621.4 1000.8,617.1 1005.4,612.6 1010.0,607.9 1014.7,602.9 1019.3,597.7 1023.9,592.3 1028.5,586.6 1033.1,580.7 1037.7,574.6 1042.4,568.2 1047.0,561.6 1051.6,554.7 1056.2,547.5 1060.8,540.1 1065.4,532.5 1070.1,524.6 1074.7,516.5 1079.3,508.1 1083.9,499.5 1088.5,490.7 1093.1,481.7 1097.7,472.5 1102.4,463.0 1107.0,453.4 1111.6,443.7 1116.2,433.7 1120.8,423.7 1125.4,413.5 1130.1,403.2 1134.7,392.8 1139.3,382.3 1143.9,371.8 1148.5,361.3 1153.1,350.8 1157.8,340.3 1162.4,329.9 1167.0,319.5 1171.6,309.2 1176.2,299.1 1180.8,289.1 1185.5,279.3 1190.1,269.7 1194.7,260.3 1199.3,251.2 1203.9,242.4 1208.5,234.0 1213.2,225.8 1217.8,218.1 1222.4,210.7 1227.0,203.7 1231.6,197.2 1236.2,191.2 1240.9,185.6 1245.5,180.6 1250.1,176.0 1254.7,172.0 1259.3,168.6 1263.9,165.7 1268.6,163.4 1273.2,161.6 1277.8,160.5 1282.4,159.9 1287.0,160.0 1291.6,160.6 1296.3,161.8 1300.9,163.6 1305.5,166.0 1310.1,169.0 1314.7,172.5 1319.3,176.5 1324.0,181.1 1328.6,186.2 1333.2,191.9 1337.8,198.0 1342.4,204.5 1347.0,211.5 1351.7,218.9 1356.3,226.8 1360.9,234.9 1365.5,243.5 1370.1,252.3 1374.7,261.4 1379.3,270.8 1384.0,280.4 1388.6,290.2 1393.2,300.3 1397.8,310.4 1402.4,320.7 1407.0,331.1 1411.7,341.5 1416.3,352.0 1420.9,362.5 1425.5,373.1 1430.1,383.5 1434.7,394.0 1439.4,404.4 1444.0,414.7 1448.6,424.8 1453.2,434.9 1457.8,444.8 1462.4,454.6 1467.1,464.1 1471.7,473.5 1476.3,482.8 1480.9,491.8 1485.5,500.5 1490.1,509.1 1494.8,517.4 1499.4,525.5 1504.0,533.4 1508.6,541.0 1513.2,548.4 1517.8,555.5 1522.5,562.3 1527.1,568.9 1531.7,575.3 1536.3,581.4 1540.9,587.3 1545.5,593.0 1550.2,598.3 1554.8,603.5 1559.4,608.4 1564.0,613.1 1568.6,617.6 1573.2,621.9 1577.9,626.0 1582.5,629.8 1587.1,633.5 1591.7,637.0 1596.3,640.3 1600.9,643.4 1605.6,646.3 1610.2,649.1 1614.8,651.7 1619.4,654.2 1624.0,656.5 1628.6,658.7 1633.2,660.8 1637.9,662.7 1642.5,664.5 1647.1,666.2 1651.7,667.8 1656.3,669.3 1660.9,670.7 1665.6,672.0 1670.2,673.2 1674.8,674.4 1679.4,675.4 1684.0,676.4 1688.6,677.3 1693.3,678.2 1697.9,679.0 1702.5,679.7 1707.1,680.4 1711.7,681.0 1716.3,681.6 1721.0,682.2 1725.6,682.7 1730.2,683.2"/><polyline points="991.6,627.9 996.2,623.9 1000.8,619.6 1005.4,615.1 1010.0,610.4 1014.7,605.5 1019.3,600.3 1023.9,594.8 1028.5,589.1 1033.1,583.1 1037.7,576.9 1042.4,570.4 1047.0,563.6 1051.6,556.5 1056.2,549.2 1060.8,541.5 1065.4,533.6 1070.1,525.4 1074.7,517.0 1079.3,508.2 1083.9,499.2 1088.5,490.0 1093.1,480.5 1097.7,470.7 1102.4,460.7 1107.0,450.5 1111.6,440.1 1116.2,429.4 1120.8,418.7 1125.4,407.7 1130.1,396.6 1134.7,385.4 1139.3,374.1 1143.9,362.7 1148.5,351.3 1153.1,339.9 1157.8,328.5 1162.4,317.1 1167.0,305.8 1171.6,294.6 1176.2,283.6 1180.8,272.7 1185.5,262.0 1190.1,251.6 1194.7,241.4 1199.3,231.5 1203.9,222.0 1208.5,212.8 1213.2,204.0 1217.8,195.7 1222.4,187.8 1227.0,180.4 1231.6,173.5 1236.2,167.2 1240.9,161.4 1245.5,156.3 1250.1,151.7 1254.7,147.8 1259.3,144.5 1263.9,141.8 1268.6,139.9 1273.2,138.6 1277.8,138.0 1282.4,138.1 1287.0,138.8 1291.6,140.3 1296.3,142.4 1300.9,145.2 1305.5,148.6 1310.1,152.7 1314.7,157.4 1319.3,162.7 1324.0,168.6 1328.6,175.0 1333.2,182.0 1337.8,189.5 1342.4,197.5 1347.0,206.0 1351.7,214.8 1356.3,224.1 1360.9,233.7 1365.5,243.7 1370.1,253.9 1374.7,264.4 1379.3,275.2 1384.0,286.1 1388.6,297.2 1393.2,308.4 1397.8,319.7 1402.4,331.1 1407.0,342.5 1411.7,353.9 1416.3,365.3 1420.9,376.7 1425.5,388.0 1430.1,399.1 1434.7,410.2 1439.4,421.1 1444.0,431.9 1448.6,442.4 1453.2,452.8 1457.8,463.0 1462.4,472.9 1467.1,482.6 1471.7,492.1 1476.3,501.3 1480.9,510.2 1485.5,518.9 1490.1,527.3 1494.8,535.4 1499.4,543.3 1504.0,550.9 1508.6,558.1 1513.2,565.2 1517.8,571.9 1522.5,578.3 1527.1,584.5 1531.7,590.4 1536.3,596.1 1540.9,601.5 1545.5,606.6 1550.2,611.5 1554.8,616.2 1559.4,620.6 1564.0,624.8 1568.6,628.8 1573.2,632.6 1577.9,636.1 1582.5,639.5 1587.1,642.7 1591.7,645.7 1596.3,648.5 1600.9,651.2 1605.6,653.7 1610.2,656.1 1614.8,658.3 1619.4,660.4 1624.0,662.4 1628.6,664.2 1633.2,665.9 1637.9,667.5 1642.5,669.0 1647.1,670.4 1651.7,671.7 1656.3,672.9 1660.9,674.1 1665.6,675.2 1670.2,676.1 1674.8,677.1 1679.4,677.9 1684.0,678.7 1688.6,679.5 1693.3,680.1 1697.9,680.8 1702.5,681.4 1707.1,681.9 1711.7,682.4 1716.3,682.9 1721.0,683.3 1725.6,683.7 1730.2,684.1"/><polyline points="991.6,624.8 996.2,620.3 1000.8,615.7 1005.4,610.7 1010.0,605.6 1014.7,600.1 1019.3,594.4 1023.9,588.5 1028.5,582.2 1033.1,575.7 1037.7,569.0 1042.4,561.9 1047.0,554.6 1051.6,547.0 1056.2,539.1 1060.8,530.9 1065.4,522.5 1070.1,513.8 1074.7,504.8 1079.3,495.6 1083.9,486.2 1088.5,476.5 1093.1,466.6 1097.7,456.4 1102.4,446.1 1107.0,435.6 1111.6,424.9 1116.2,414.1 1120.8,403.2 1125.4,392.1 1130.1,381.0 1134.7,369.8 1139.3,358.5 1143.9,347.3 1148.5,336.0 1153.1,324.8 1157.8,313.7 1162.4,302.7 1167.0,291.7 1171.6,281.0 1176.2,270.4 1180.8,260.1 1185.5,250.0 1190.1,240.2 1194.7,230.7 1199.3,221.6 1203.9,212.8 1208.5,204.4 1213.2,196.4 1217.8,188.9 1222.4,181.9 1227.0,175.3 1231.6,169.3 1236.2,163.9 1240.9,159.0 1245.5,154.7 1250.1,150.9 1254.7,147.8 1259.3,145.3 1263.9,143.5 1268.6,142.2 1273.2,141.6 1277.8,141.7 1282.4,142.4 1287.0,143.8 1291.6,145.7 1296.3,148.3 1300.9,151.6 1305.5,155.4 1310.1,159.8 1314.7,164.8 1319.3,170.4 1324.0,176.5 1328.6,183.1 1333.2,190.3 1337.8,197.9 1342.4,205.9 1347.0,214.4 1351.7,223.2 1356.3,232.4 1360.9,242.0 1365.5,251.9 1370.1,262.0 1374.7,272.4 1379.3,283.0 1384.0,293.7 1388.6,304.7 1393.2,315.7 1397.8,326.9 1402.4,338.1 1407.0,349.3 1411.7,360.6 1416.3,371.8 1420.9,383.0 1425.5,394.1 1430.1,405.2 1434.7,416.1 1439.4,426.9 1444.0,437.6 1448.6,448.0 1453.2,458.3 1457.8,468.4 1462.4,478.3 1467.1,487.9 1471.7,497.3 1476.3,506.5 1480.9,515.4 1485.5,524.1 1490.1,532.5 1494.8,540.6 1499.4,548.4 1504.0,556.0 1508.6,563.2 1513.2,570.2 1517.8,577.0 1522.5,583.4 1527.1,589.6 1531.7,595.5 1536.3,601.1 1540.9,606.5 1545.5,611.7 1550.2,616.5 1554.8,621.2 1559.4,625.6 1564.0,629.7 1568.6,633.7 1573.2,637.4 1577.9,640.9 1582.5,644.2 1587.1,647.4 1591.7,650.3 1596.3,653.1 1600.9,655.7 1605.6,658.1 1610.2,660.4 1614.8,662.5 1619.4,664.5 1624.0,666.3 1628.6,668.1 1633.2,669.7 1637.9,671.2 1642.5,672.6 1647.1,673.9 1651.7,675.1 1656.3,676.2 1660.9,677.2 1665.6,678.2 1670.2,679.0 1674.8,679.9 1679.4,680.6 1684.0,681.3 1688.6,681.9 1693.3,682.5 1697.9,683.0 1702.5,683.5 1707.1,684.0 1711.7,684.4 1716.3,684.8 1721.0,685.1 1725.6,685.4 1730.2,685.7"/><polyline points="991.6,627.3 996.2,623.2 1000.8,618.9 1005.4,614.4 1010.0,609.6 1014.7,604.7 1019.3,599.4 1023.9,594.0 1028.5,588.3 1033.1,582.3 1037.7,576.1 1042.4,569.6 1047.0,562.8 1051.6,555.8 1056.2,548.5 1060.8,541.0 1065.4,533.2 1070.1,525.1 1074.7,516.8 1079.3,508.2 1083.9,499.4 1088.5,490.3 1093.1,481.1 1097.7,471.5 1102.4,461.8 1107.0,451.9 1111.6,441.8 1116.2,431.5 1120.8,421.0 1125.4,410.5 1130.1,399.8 1134.7,389.0 1139.3,378.1 1143.9,367.2 1148.5,356.3 1153.1,345.3 1157.8,334.4 1162.4,323.5 1167.0,312.7 1171.6,302.0 1176.2,291.4 1180.8,281.0 1185.5,270.8 1190.1,260.8 1194.7,251.1 1199.3,241.6 1203.9,232.5 1208.5,223.7 1213.2,215.2 1217.8,207.2 1222.4,199.6 1227.0,192.4 1231.6,185.8 1236.2,179.6 1240.9,173.9 1245.5,168.8 1250.1,164.2 1254.7,160.3 1259.3,156.9 1263.9,154.1 1268.6,151.9 1273.2,150.4 1277.8,149.4 1282.4,149.1 1287.0,149.5 1291.6,150.4 1296.3,152.0 1300.9,154.2 1305.5,157.1 1310.1,160.5 1314.7,164.5 1319.3,169.1 1324.0,174.3 1328.6,180.0 1333.2,186.2 1337.8,192.9 1342.4,200.1 1347.0,207.7 1351.7,215.8 1356.3,224.2 1360.9,233.0 1365.5,242.2 1370.1,251.7 1374.7,261.4 1379.3,271.4 1384.0,281.7 1388.6,292.1 1393.2,302.7 1397.8,313.4 1402.4,324.2 1407.0,335.1 1411.7,346.0 1416.3,357.0 1420.9,367.9 1425.5,378.8 1430.1,389.7 1434.7,400.5 1439.4,411.2 1444.0,421.7 1448.6,432.2 1453.2,442.4 1457.8,452.5 1462.4,462.4 1467.1,472.2 1471.7,481.7 1476.3,490.9 1480.9,500.0 1485.5,508.8 1490.1,517.4 1494.8,525.7 1499.4,533.7 1504.0,541.5 1508.6,549.0 1513.2,556.3 1517.8,563.3 1522.5,570.0 1527.1,576.5 1531.7,582.7 1536.3,588.6 1540.9,594.3 1545.5,599.8 1550.2,605.0 1554.8,610.0 1559.4,614.7 1564.0,619.2 1568.6,623.5 1573.2,627.5 1577.9,631.4 1582.5,635.0 1587.1,638.5 1591.7,641.7 1596.3,644.8 1600.9,647.7 1605.6,650.5 1610.2,653.1 1614.8,655.5 1619.4,657.8 1624.0,659.9 1628.6,662.0 1633.2,663.8 1637.9,665.6 1642.5,667.3 1647.1,668.8 1651.7,670.3 1656.3,671.6 1660.9,672.9 1665.6,674.1 1670.2,675.1 1674.8,676.2 1679.4,677.1 1684.0,678.0 1688.6,678.8 1693.3,679.6 1697.9,680.3 1702.5,680.9 1707.1,681.5 1711.7,682.1 1716.3,682.6 1721.0,683.1 1725.6,683.5 1730.2,683.9"/><polyline points="991.6,590.9 996.2,585.3 1000.8,579.4 1005.4,573.2 1010.0,566.8 1014.7,560.2 1019.3,553.2 1023.9,546.0 1028.5,538.6 1033.1,530.8 1037.7,522.8 1042.4,514.6 1047.0,506.0 1051.6,497.3 1056.2,488.2 1060.8,479.0 1065.4,469.5 1070.1,459.8 1074.7,449.8 1079.3,439.7 1083.9,429.4 1088.5,418.9 1093.1,408.2 1097.7,397.4 1102.4,386.5 1107.0,375.6 1111.6,364.5 1116.2,353.4 1120.8,342.3 1125.4,331.2 1130.1,320.2 1134.7,309.2 1139.3,298.3 1143.9,287.5 1148.5,276.9 1153.1,266.6 1157.8,256.4 1162.4,246.5 1167.0,236.9 1171.6,227.6 1176.2,218.6 1180.8,210.1 1185.5,202.0 1190.1,194.3 1194.7,187.1 1199.3,180.4 1203.9,174.3 1208.5,168.7 1213.2,163.7 1217.8,159.2 1222.4,155.4 1227.0,152.3 1231.6,149.7 1236.2,147.8 1240.9,146.6 1245.5,146.1 1250.1,146.2 1254.7,147.0 1259.3,148.4 1263.9,150.6 1268.6,153.3 1273.2,156.7 1277.8,160.7 1282.4,165.4 1287.0,170.6 1291.6,176.4 1296.3,182.8 1300.9,189.6 1305.5,197.0 1310.1,204.8 1314.7,213.1 1319.3,221.8 1324.0,230.8 1328.6,240.3 1333.2,250.0 1337.8,260.0 1342.4,270.2 1347.0,280.7 1351.7,291.4 1356.3,302.2 1360.9,313.1 1365.5,324.1 1370.1,335.2 1374.7,346.3 1379.3,357.4 1384.0,368.5 1388.6,379.5 1393.2,390.5 1397.8,401.3 1402.4,412.0 1407.0,422.6 1411.7,433.1 1416.3,443.3 1420.9,453.4 1425.5,463.3 1430.1,472.9 1434.7,482.3 1439.4,491.5 1444.0,500.4 1448.6,509.1 1453.2,517.6 1457.8,525.7 1462.4,533.6 1467.1,541.3 1471.7,548.6 1476.3,555.7 1480.9,562.6 1485.5,569.1 1490.1,575.5 1494.8,581.5 1499.4,587.3 1504.0,592.9 1508.6,598.2 1513.2,603.2 1517.8,608.1 1522.5,612.7 1527.1,617.1 1531.7,621.2 1536.3,625.2 1540.9,629.0 1545.5,632.5 1550.2,635.9 1554.8,639.1 1559.4,642.2 1564.0,645.0 1568.6,647.7 1573.2,650.3 1577.9,652.7 1582.5,655.0 1587.1,657.1 1591.7,659.2 1596.3,661.1 1600.9,662.9 1605.6,664.5 1610.2,666.1 1614.8,667.6 1619.4,669.0 1624.0,670.3 1628.6,671.5 1633.2,672.7 1637.9,673.7 1642.5,674.7 1647.1,675.7 1651.7,676.6 1656.3,677.4 1660.9,678.1 1665.6,678.9 1670.2,679.5 1674.8,680.2 1679.4,680.7 1684.0,681.3 1688.6,681.8 1693.3,682.3 1697.9,682.7 1702.5,683.1 1707.1,683.5 1711.7,683.8 1716.3,684.2 1721.0,684.5 1725.6,684.8 1730.2,685.0"/><polyline points="991.6,629.1 996.2,625.1 1000.8,620.9 1005.4,616.5 1010.0,611.8 1014.7,606.9 1019.3,601.7 1023.9,596.3 1028.5,590.6 1033.1,584.7 1037.7,578.5 1042.4,572.0 1047.0,565.3 1051.6,558.2 1056.2,550.9 1060.8,543.3 1065.4,535.4 1070.1,527.3 1074.7,518.9 1079.3,510.2 1083.9,501.2 1088.5,491.9 1093.1,482.4 1097.7,472.7 1102.4,462.7 1107.0,452.5 1111.6,442.1 1116.2,431.5 1120.8,420.7 1125.4,409.8 1130.1,398.7 1134.7,387.5 1139.3,376.2 1143.9,364.8 1148.5,353.4 1153.1,341.9 1157.8,330.5 1162.4,319.1 1167.0,307.8 1171.6,296.5 1176.2,285.4 1180.8,274.5 1185.5,263.7 1190.1,253.2 1194.7,243.0 1199.3,233.0 1203.9,223.4 1208.5,214.1 1213.2,205.3 1217.8,196.8 1222.4,188.8 1227.0,181.3 1231.6,174.3 1236.2,167.9 1240.9,162.0 1245.5,156.7 1250.1,152.0 1254.7,148.0 1259.3,144.5 1263.9,141.8 1268.6,139.7 1273.2,138.2 1277.8,137.5 1282.4,137.4 1287.0,138.0 1291.6,139.3 1296.3,141.3 1300.9,143.9 1305.5,147.2 1310.1,151.2 1314.7,155.7 1319.3,160.9 1324.0,166.7 1328.6,173.0 1333.2,179.9 1337.8,187.3 1342.4,195.2 1347.0,203.6 1351.7,212.4 1356.3,221.6 1360.9,231.1 1365.5,241.0 1370.1,251.2 1374.7,261.7 1379.3,272.4 1384.0,283.3 1388.6,294.3 1393.2,305.6 1397.8,316.9 1402.4,328.3 1407.0,339.7 1411.7,351.1 1416.3,362.6 1420.9,374.0 1425.5,385.3 1430.1,396.5 1434.7,407.6 1439.4,418.6 1444.0,429.4 1448.6,440.1 1453.2,450.5 1457.8,460.8 1462.4,470.8 1467.1,480.6 1471.7,490.1 1476.3,499.4 1480.9,508.4 1485.5,517.2 1490.1,525.7 1494.8,533.9 1499.4,541.8 1504.0,549.5 1508.6,556.8 1513.2,563.9 1517.8,570.7 1522.5,577.3 1527.1,583.5 1531.7,589.5 1536.3,595.2 1540.9,600.7 1545.5,605.9 1550.2,610.8 1554.8,615.6 1559.4,620.1 1564.0,624.3 1568.6,628.3 1573.2,632.2 1577.9,635.8 1582.5,639.2 1587.1,642.4 1591.7,645.5 1596.3,648.3 1600.9,651.0 1605.6,653.6 1610.2,656.0 1614.8,658.2 1619.4,660.3 1624.0,662.3 1628.6,664.2 1633.2,665.9 1637.9,667.5 1642.5,669.0 1647.1,670.4 1651.7,671.8 1656.3,673.0 1660.9,674.1 1665.6,675.2 1670.2,676.2 1674.8,677.1 1679.4,678.0 1684.0,678.8 1688.6,679.5 1693.3,680.2 1697.9,680.9 1702.5,681.5 1707.1,682.0 1711.7,682.5 1716.3,683.0 1721.0,683.4 1725.6,683.8 1730.2,684.2"/><polyline points="991.6,610.2 996.2,606.0 1000.8,601.5 1005.4,596.9 1010.0,592.1 1014.7,587.0 1019.3,581.7 1023.9,576.1 1028.5,570.4 1033.1,564.4 1037.7,558.1 1042.4,551.6 1047.0,544.8 1051.6,537.7 1056.2,530.4 1060.8,522.9 1065.4,515.1 1070.1,507.0 1074.7,498.6 1079.3,490.0 1083.9,481.1 1088.5,472.0 1093.1,462.7 1097.7,453.1 1102.4,443.3 1107.0,433.2 1111.6,423.0 1116.2,412.6 1120.8,402.0 1125.4,391.3 1130.1,380.5 1134.7,369.5 1139.3,358.5 1143.9,347.4 1148.5,336.3 1153.1,325.2 1157.8,314.1 1162.4,303.1 1167.0,292.2 1171.6,281.4 1176.2,270.8 1180.8,260.4 1185.5,250.2 1190.1,240.3 1194.7,230.8 1199.3,221.6 1203.9,212.8 1208.5,204.4 1213.2,196.5 1217.8,189.1 1222.4,182.2 1227.0,175.9 1231.6,170.2 1236.2,165.1 1240.9,160.6 1245.5,156.8 1250.1,153.7 1254.7,151.3 1259.3,149.6 1263.9,148.6 1268.6,148.3 1273.2,148.8 1277.8,149.9 1282.4,151.8 1287.0,154.4 1291.6,157.7 1296.3,161.7 1300.9,166.3 1305.5,171.5 1310.1,177.4 1314.7,183.9 1319.3,190.9 1324.0,198.4 1328.6,206.5 1333.2,215.0 1337.8,223.9 1342.4,233.2 1347.0,242.8 1351.7,252.7 1356.3,263.0 1360.9,273.4 1365.5,284.1 1370.1,294.9 1374.7,305.8 1379.3,316.9 1384.0,328.0 1388.6,339.1 1393.2,350.2 1397.8,361.3 1402.4,372.3 1407.0,383.2 1411.7,394.0 1416.3,404.7 1420.9,415.3 1425.5,425.6 1430.1,435.8 1434.7,445.8 1439.4,455.5 1444.0,465.1 1448.6,474.3 1453.2,483.4 1457.8,492.2 1462.4,500.7 1467.1,509.0 1471.7,517.1 1476.3,524.8 1480.9,532.3 1485.5,539.6 1490.1,546.5 1494.8,553.2 1499.4,559.7 1504.0,565.9 1508.6,571.9 1513.2,577.6 1517.8,583.0 1522.5,588.3 1527.1,593.3 1531.7,598.1 1536.3,602.7 1540.9,607.1 1545.5,611.2 1550.2,615.2 1554.8,619.0 1559.4,622.6 1564.0,626.1 1568.6,629.3 1573.2,632.4 1577.9,635.4 1582.5,638.2 1587.1,640.9 1591.7,643.4 1596.3,645.8 1600.9,648.1 1605.6,650.3 1610.2,652.3 1614.8,654.3 1619.4,656.1 1624.0,657.8 1628.6,659.5 1633.2,661.1 1637.9,662.5 1642.5,663.9 1647.1,665.3 1651.7,666.5 1656.3,667.7 1660.9,668.8 1665.6,669.9 1670.2,670.9 1674.8,671.8 1679.4,672.7 1684.0,673.6 1688.6,674.4 1693.3,675.1 1697.9,675.9 1702.5,676.5 1707.1,677.2 1711.7,677.8 1716.3,678.4 1721.0,678.9 1725.6,679.4 1730.2,679.9"/><polyline points="991.6,595.0 996.2,589.5 1000.8,583.7 1005.4,577.6 1010.0,571.3 1014.7,564.8 1019.3,558.0 1023.9,551.0 1028.5,543.7 1033.1,536.2 1037.7,528.5 1042.4,520.5 1047.0,512.2 1051.6,503.8 1056.2,495.1 1060.8,486.2 1065.4,477.1 1070.1,467.8 1074.7,458.3 1079.3,448.7 1083.9,438.9 1088.5,428.9 1093.1,418.8 1097.7,408.7 1102.4,398.4 1107.0,388.0 1111.6,377.6 1116.2,367.2 1120.8,356.8 1125.4,346.4 1130.1,336.0 1134.7,325.7 1139.3,315.4 1143.9,305.3 1148.5,295.4 1153.1,285.6 1157.8,276.0 1162.4,266.6 1167.0,257.5 1171.6,248.6 1176.2,240.0 1180.8,231.8 1185.5,223.9 1190.1,216.4 1194.7,209.3 1199.3,202.7 1203.9,196.4 1208.5,190.7 1213.2,185.4 1217.8,180.6 1222.4,176.3 1227.0,172.6 1231.6,169.4 1236.2,166.8 1240.9,164.7 1245.5,163.3 1250.1,162.3 1254.7,162.0 1259.3,162.3 1263.9,163.1 1268.6,164.5 1273.2,166.5 1277.8,169.0 1282.4,172.1 1287.0,175.8 1291.6,180.0 1296.3,184.7 1300.9,189.9 1305.5,195.6 1310.1,201.7 1314.7,208.3 1319.3,215.4 1324.0,222.8 1328.6,230.6 1333.2,238.8 1337.8,247.3 1342.4,256.1 1347.0,265.2 1351.7,274.6 1356.3,284.2 1360.9,293.9 1365.5,303.9 1370.1,314.0 1374.7,324.2 1379.3,334.5 1384.0,344.9 1388.6,355.3 1393.2,365.7 1397.8,376.1 1402.4,386.5 1407.0,396.9 1411.7,407.2 1416.3,417.4 1420.9,427.5 1425.5,437.4 1430.1,447.3 1434.7,456.9 1439.4,466.4 1444.0,475.8 1448.6,484.9 1453.2,493.8 1457.8,502.5 1462.4,511.0 1467.1,519.3 1471.7,527.3 1476.3,535.1 1480.9,542.7 1485.5,550.0 1490.1,557.0 1494.8,563.8 1499.4,570.4 1504.0,576.7 1508.6,582.8 1513.2,588.6 1517.8,594.2 1522.5,599.6 1527.1,604.7 1531.7,609.6 1536.3,614.3 1540.9,618.8 1545.5,623.0 1550.2,627.0 1554.8,630.9 1559.4,634.5 1564.0,637.9 1568.6,641.2 1573.2,644.3 1577.9,647.2 1582.5,650.0 1587.1,652.6 1591.7,655.0 1596.3,657.3 1600.9,659.5 1605.6,661.5 1610.2,663.4 1614.8,665.2 1619.4,666.9 1624.0,668.5 1628.6,670.0 1633.2,671.3 1637.9,672.6 1642.5,673.8 1647.1,674.9 1651.7,676.0 1656.3,676.9 1660.9,677.8 1665.6,678.7 1670.2,679.4 1674.8,680.2 1679.4,680.8 1684.0,681.4 1688.6,682.0 1693.3,682.5 1697.9,683.0 1702.5,683.5 1707.1,683.9 1711.7,684.3 1716.3,684.6 1721.0,685.0 1725.6,685.3 1730.2,685.5"/><polyline points="991.6,619.2 996.2,614.6 1000.8,609.9 1005.4,604.8 1010.0,599.6 1014.7,594.1 1019.3,588.3 1023.9,582.2 1028.5,575.9 1033.1,569.3 1037.7,562.4 1042.4,555.3 1047.0,547.8 1051.6,540.1 1056.2,532.1 1060.8,523.8 1065.4,515.3 1070.1,506.4 1074.7,497.3 1079.3,487.9 1083.9,478.3 1088.5,468.5 1093.1,458.4 1097.7,448.0 1102.4,437.5 1107.0,426.8 1111.6,415.9 1116.2,404.8 1120.8,393.7 1125.4,382.4 1130.1,371.0 1134.7,359.5 1139.3,348.1 1143.9,336.6 1148.5,325.1 1153.1,313.7 1157.8,302.3 1162.4,291.1 1167.0,280.0 1171.6,269.1 1176.2,258.4 1180.8,247.9 1185.5,237.7 1190.1,227.9 1194.7,218.4 1199.3,209.2 1203.9,200.5 1208.5,192.2 1213.2,184.4 1217.8,177.1 1222.4,170.3 1227.0,164.1 1231.6,158.4 1236.2,153.4 1240.9,149.0 1245.5,145.2 1250.1,142.0 1254.7,139.6 1259.3,137.8 1263.9,136.6 1268.6,136.2 1273.2,136.5 1277.8,137.4 1282.4,139.1 1287.0,141.4 1291.6,144.3 1296.3,148.0 1300.9,152.2 1305.5,157.1 1310.1,162.6 1314.7,168.7 1319.3,175.4 1324.0,182.6 1328.6,190.3 1333.2,198.4 1337.8,207.1 1342.4,216.1 1347.0,225.5 1351.7,235.3 1356.3,245.4 1360.9,255.8 1365.5,266.4 1370.1,277.3 1374.7,288.4 1379.3,299.6 1384.0,310.9 1388.6,322.3 1393.2,333.8 1397.8,345.2 1402.4,356.7 1407.0,368.2 1411.7,379.6 1416.3,390.9 1420.9,402.1 1425.5,413.2 1430.1,424.1 1434.7,434.9 1439.4,445.5 1444.0,455.9 1448.6,466.0 1453.2,475.9 1457.8,485.6 1462.4,495.1 1467.1,504.2 1471.7,513.1 1476.3,521.8 1480.9,530.1 1485.5,538.2 1490.1,546.0 1494.8,553.5 1499.4,560.7 1504.0,567.7 1508.6,574.3 1513.2,580.7 1517.8,586.8 1522.5,592.7 1527.1,598.3 1531.7,603.6 1536.3,608.7 1540.9,613.5 1545.5,618.1 1550.2,622.4 1554.8,626.6 1559.4,630.5 1564.0,634.2 1568.6,637.7 1573.2,641.0 1577.9,644.1 1582.5,647.1 1587.1,649.9 1591.7,652.5 1596.3,654.9 1600.9,657.2 1605.6,659.4 1610.2,661.4 1614.8,663.3 1619.4,665.1 1624.0,666.8 1628.6,668.4 1633.2,669.8 1637.9,671.2 1642.5,672.4 1647.1,673.6 1651.7,674.7 1656.3,675.8 1660.9,676.7 1665.6,677.6 1670.2,678.4 1674.8,679.2 1679.4,679.9 1684.0,680.6 1688.6,681.2 1693.3,681.8 1697.9,682.3 1702.5,682.8 1707.1,683.2 1711.7,683.6 1716.3,684.0 1721.0,684.4 1725.6,684.7 1730.2,685.0"/><polyline points="991.6,649.5 996.2,646.7 1000.8,643.8 1005.4,640.6 1010.0,637.3 1014.7,633.8 1019.3,630.1 1023.9,626.2 1028.5,622.1 1033.1,617.8 1037.7,613.3 1042.4,608.5 1047.0,603.5 1051.6,598.3 1056.2,592.8 1060.8,587.0 1065.4,581.1 1070.1,574.8 1074.7,568.3 1079.3,561.6 1083.9,554.5 1088.5,547.2 1093.1,539.7 1097.7,531.9 1102.4,523.8 1107.0,515.5 1111.6,507.0 1116.2,498.1 1120.8,489.1 1125.4,479.8 1130.1,470.3 1134.7,460.6 1139.3,450.7 1143.9,440.7 1148.5,430.4 1153.1,420.0 1157.8,409.5 1162.4,398.9 1167.0,388.1 1171.6,377.3 1176.2,366.5 1180.8,355.6 1185.5,344.7 1190.1,333.9 1194.7,323.1 1199.3,312.3 1203.9,301.7 1208.5,291.2 1213.2,280.9 1217.8,270.8 1222.4,260.9 1227.0,251.3 1231.6,241.9 1236.2,232.9 1240.9,224.2 1245.5,215.8 1250.1,207.9 1254.7,200.4 1259.3,193.3 1263.9,186.7 1268.6,180.6 1273.2,175.1 1277.8,170.0 1282.4,165.6 1287.0,161.7 1291.6,158.3 1296.3,155.6 1300.9,153.5 1305.5,152.0 1310.1,151.2 1314.7,150.9 1319.3,151.3 1324.0,152.3 1328.6,153.9 1333.2,156.2 1337.8,159.0 1342.4,162.5 1347.0,166.5 1351.7,171.1 1356.3,176.3 1360.9,182.0 1365.5,188.2 1370.1,194.9 1374.7,202.0 1379.3,209.7 1384.0,217.7 1388.6,226.1 1393.2,234.9 1397.8,244.0 1402.4,253.4 1407.0,263.1 1411.7,273.1 1416.3,283.3 1420.9,293.6 1425.5,304.1 1430.1,314.8 1434.7,325.5 1439.4,336.3 1444.0,347.2 1448.6,358.1 1453.2,369.0 1457.8,379.8 1462.4,390.6 1467.1,401.3 1471.7,411.9 1476.3,422.4 1480.9,432.8 1485.5,443.0 1490.1,453.0 1494.8,462.9 1499.4,472.5 1504.0,482.0 1508.6,491.2 1513.2,500.2 1517.8,508.9 1522.5,517.4 1527.1,525.7 1531.7,533.7 1536.3,541.4 1540.9,548.9 1545.5,556.2 1550.2,563.1 1554.8,569.8 1559.4,576.3 1564.0,582.4 1568.6,588.4 1573.2,594.0 1577.9,599.5 1582.5,604.7 1587.1,609.6 1591.7,614.3 1596.3,618.8 1600.9,623.1 1605.6,627.1 1610.2,631.0 1614.8,634.6 1619.4,638.1 1624.0,641.4 1628.6,644.4 1633.2,647.4 1637.9,650.1 1642.5,652.7 1647.1,655.1 1651.7,657.4 1656.3,659.6 1660.9,661.6 1665.6,663.5 1670.2,665.3 1674.8,666.9 1679.4,668.5 1684.0,670.0 1688.6,671.3 1693.3,672.6 1697.9,673.8 1702.5,674.9 1707.1,675.9 1711.7,676.9 1716.3,677.8 1721.0,678.6 1725.6,679.3 1730.2,680.1"/><polyline points="991.6,632.3 996.2,628.5 1000.8,624.5 1005.4,620.3 1010.0,615.9 1014.7,611.3 1019.3,606.5 1023.9,601.4 1028.5,596.1 1033.1,590.6 1037.7,584.8 1042.4,578.7 1047.0,572.5 1051.6,565.9 1056.2,559.1 1060.8,552.1 1065.4,544.8 1070.1,537.2 1074.7,529.5 1079.3,521.4 1083.9,513.1 1088.5,504.6 1093.1,495.9 1097.7,486.9 1102.4,477.7 1107.0,468.3 1111.6,458.7 1116.2,449.0 1120.8,439.1 1125.4,429.0 1130.1,418.8 1134.7,408.4 1139.3,398.0 1143.9,387.5 1148.5,376.9 1153.1,366.3 1157.8,355.7 1162.4,345.1 1167.0,334.5 1171.6,324.0 1176.2,313.6 1180.8,303.3 1185.5,293.2 1190.1,283.2 1194.7,273.4 1199.3,263.8 1203.9,254.5 1208.5,245.4 1213.2,236.7 1217.8,228.3 1222.4,220.2 1227.0,212.6 1231.6,205.4 1236.2,198.6 1240.9,192.2 1245.5,186.3 1250.1,181.0 1254.7,176.1 1259.3,171.8 1263.9,168.0 1268.6,164.8 1273.2,162.2 1277.8,160.1 1282.4,158.7 1287.0,157.8 1291.6,157.5 1296.3,157.9 1300.9,158.8 1305.5,160.3 1310.1,162.4 1314.7,165.1 1319.3,168.4 1324.0,172.2 1328.6,176.6 1333.2,181.5 1337.8,186.9 1342.4,192.8 1347.0,199.2 1351.7,206.1 1356.3,213.4 1360.9,221.0 1365.5,229.1 1370.1,237.6 1374.7,246.3 1379.3,255.4 1384.0,264.7 1388.6,274.3 1393.2,284.2 1397.8,294.2 1402.4,304.4 1407.0,314.7 1411.7,325.1 1416.3,335.6 1420.9,346.2 1425.5,356.8 1430.1,367.4 1434.7,378.0 1439.4,388.6 1444.0,399.1 1448.6,409.5 1453.2,419.8 1457.8,430.0 1462.4,440.1 1467.1,450.0 1471.7,459.7 1476.3,469.3 1480.9,478.6 1485.5,487.8 1490.1,496.8 1494.8,505.5 1499.4,514.0 1504.0,522.2 1508.6,530.3 1513.2,538.0 1517.8,545.5 1522.5,552.8 1527.1,559.8 1531.7,566.6 1536.3,573.1 1540.9,579.4 1545.5,585.4 1550.2,591.1 1554.8,596.7 1559.4,601.9 1564.0,607.0 1568.6,611.8 1573.2,616.4 1577.9,620.8 1582.5,624.9 1587.1,628.9 1591.7,632.6 1596.3,636.2 1600.9,639.5 1605.6,642.7 1610.2,645.7 1614.8,648.6 1619.4,651.3 1624.0,653.8 1628.6,656.2 1633.2,658.4 1637.9,660.5 1642.5,662.5 1647.1,664.3 1651.7,666.1 1656.3,667.7 1660.9,669.2 1665.6,670.6 1670.2,672.0 1674.8,673.2 1679.4,674.3 1684.0,675.4 1688.6,676.4 1693.3,677.4 1697.9,678.2 1702.5,679.0 1707.1,679.8 1711.7,680.5 1716.3,681.1 1721.0,681.7 1725.6,682.2 1730.2,682.7"/><polyline points="991.6,624.3 996.2,619.8 1000.8,615.0 1005.4,609.9 1010.0,604.6 1014.7,599.0 1019.3,593.1 1023.9,586.9 1028.5,580.5 1033.1,573.7 1037.7,566.6 1042.4,559.2 1047.0,551.5 1051.6,543.5 1056.2,535.2 1060.8,526.5 1065.4,517.6 1070.1,508.3 1074.7,498.8 1079.3,488.9 1083.9,478.8 1088.5,468.4 1093.1,457.7 1097.7,446.8 1102.4,435.7 1107.0,424.3 1111.6,412.7 1116.2,401.0 1120.8,389.1 1125.4,377.1 1130.1,365.0 1134.7,352.8 1139.3,340.6 1143.9,328.3 1148.5,316.1 1153.1,304.0 1157.8,291.9 1162.4,279.9 1167.0,268.1 1171.6,256.5 1176.2,245.1 1180.8,234.0 1185.5,223.2 1190.1,212.7 1194.7,202.7 1199.3,193.0 1203.9,183.8 1208.5,175.1 1213.2,166.9 1217.8,159.2 1222.4,152.2 1227.0,145.7 1231.6,139.9 1236.2,134.7 1240.9,130.2 1245.5,126.4 1250.1,123.3 1254.7,121.0 1259.3,119.4 1263.9,118.5 1268.6,118.4 1273.2,119.0 1277.8,120.3 1282.4,122.4 1287.0,125.2 1291.6,128.8 1296.3,133.0 1300.9,137.9 1305.5,143.5 1310.1,149.8 1314.7,156.6 1319.3,164.1 1324.0,172.1 1328.6,180.6 1333.2,189.7 1337.8,199.2 1342.4,209.1 1347.0,219.4 1351.7,230.1 1356.3,241.1 1360.9,252.4 1365.5,263.9 1370.1,275.7 1374.7,287.6 1379.3,299.6 1384.0,311.8 1388.6,324.0 1393.2,336.2 1397.8,348.4 1402.4,360.7 1407.0,372.8 1411.7,384.8 1416.3,396.8 1420.9,408.6 1425.5,420.2 1430.1,431.6 1434.7,442.8 1439.4,453.8 1444.0,464.6 1448.6,475.1 1453.2,485.3 1457.8,495.3 1462.4,504.9 1467.1,514.3 1471.7,523.3 1476.3,532.1 1480.9,540.5 1485.5,548.7 1490.1,556.5 1494.8,564.0 1499.4,571.2 1504.0,578.1 1508.6,584.7 1513.2,590.9 1517.8,596.9 1522.5,602.6 1527.1,608.1 1531.7,613.2 1536.3,618.1 1540.9,622.7 1545.5,627.1 1550.2,631.2 1554.8,635.1 1559.4,638.8 1564.0,642.3 1568.6,645.5 1573.2,648.6 1577.9,651.5 1582.5,654.1 1587.1,656.7 1591.7,659.0 1596.3,661.2 1600.9,663.3 1605.6,665.2 1610.2,667.0 1614.8,668.7 1619.4,670.2 1624.0,671.6 1628.6,673.0 1633.2,674.2 1637.9,675.4 1642.5,676.4 1647.1,677.4 1651.7,678.3 1656.3,679.2 1660.9,680.0 1665.6,680.7 1670.2,681.3 1674.8,681.9 1679.4,682.5 1684.0,683.0 1688.6,683.5 1693.3,683.9 1697.9,684.3 1702.5,684.7 1707.1,685.0 1711.7,685.3 1716.3,685.6 1721.0,685.9 1725.6,686.1 1730.2,686.3"/><polyline points="991.6,629.1 996.2,624.6 1000.8,619.8 1005.4,614.8 1010.0,609.5 1014.7,603.9 1019.3,598.0 1023.9,591.8 1028.5,585.3 1033.1,578.4 1037.7,571.3 1042.4,563.9 1047.0,556.1 1051.6,548.0 1056.2,539.6 1060.8,530.9 1065.4,521.9 1070.1,512.5 1074.7,502.9 1079.3,492.9 1083.9,482.7 1088.5,472.2 1093.1,461.4 1097.7,450.4 1102.4,439.2 1107.0,427.7 1111.6,416.1 1116.2,404.3 1120.8,392.3 1125.4,380.2 1130.1,368.0 1134.7,355.7 1139.3,343.4 1143.9,331.1 1148.5,318.8 1153.1,306.6 1157.8,294.4 1162.4,282.4 1167.0,270.5 1171.6,258.8 1176.2,247.3 1180.8,236.1 1185.5,225.2 1190.1,214.7 1194.7,204.5 1199.3,194.7 1203.9,185.4 1208.5,176.5 1213.2,168.1 1217.8,160.3 1222.4,153.0 1227.0,146.4 1231.6,140.3 1236.2,134.9 1240.9,130.1 1245.5,126.1 1250.1,122.7 1254.7,120.0 1259.3,118.0 1263.9,116.8 1268.6,116.3 1273.2,116.5 1277.8,117.5 1282.4,119.2 1287.0,121.6 1291.6,124.7 1296.3,128.5 1300.9,133.0 1305.5,138.2 1310.1,144.0 1314.7,150.4 1319.3,157.5 1324.0,165.1 1328.6,173.3 1333.2,181.9 1337.8,191.1 1342.4,200.7 1347.0,210.8 1351.7,221.2 1356.3,232.0 1360.9,243.0 1365.5,254.4 1370.1,266.0 1374.7,277.8 1379.3,289.8 1384.0,301.9 1388.6,314.2 1393.2,326.4 1397.8,338.8 1402.4,351.1 1407.0,363.4 1411.7,375.6 1416.3,387.7 1420.9,399.7 1425.5,411.6 1430.1,423.3 1434.7,434.9 1439.4,446.2 1444.0,457.3 1448.6,468.1 1453.2,478.7 1457.8,489.1 1462.4,499.1 1467.1,508.9 1471.7,518.3 1476.3,527.5 1480.9,536.3 1485.5,544.9 1490.1,553.1 1494.8,561.0 1499.4,568.5 1504.0,575.8 1508.6,582.7 1513.2,589.3 1517.8,595.6 1522.5,601.7 1527.1,607.4 1531.7,612.8 1536.3,617.9 1540.9,622.8 1545.5,627.4 1550.2,631.7 1554.8,635.8 1559.4,639.7 1564.0,643.3 1568.6,646.7 1573.2,649.9 1577.9,652.9 1582.5,655.6 1587.1,658.2 1591.7,660.7 1596.3,662.9 1600.9,665.0 1605.6,667.0 1610.2,668.8 1614.8,670.5 1619.4,672.0 1624.0,673.4 1628.6,674.8 1633.2,676.0 1637.9,677.1 1642.5,678.1 1647.1,679.1 1651.7,679.9 1656.3,680.7 1660.9,681.5 1665.6,682.1 1670.2,682.7 1674.8,683.3 1679.4,683.8 1684.0,684.3 1688.6,684.7 1693.3,685.1 1697.9,685.4 1702.5,685.7 1707.1,686.0 1711.7,686.3 1716.3,686.5 1721.0,686.7 1725.6,686.9 1730.2,687.1"/><polyline points="991.6,604.4 996.2,600.2 1000.8,595.8 1005.4,591.2 1010.0,586.3 1014.7,581.3 1019.3,576.0 1023.9,570.5 1028.5,564.7 1033.1,558.7 1037.7,552.5 1042.4,546.0 1047.0,539.3 1051.6,532.3 1056.2,525.0 1060.8,517.5 1065.4,509.7 1070.1,501.6 1074.7,493.3 1079.3,484.7 1083.9,475.9 1088.5,466.8 1093.1,457.4 1097.7,447.8 1102.4,438.0 1107.0,428.0 1111.6,417.7 1116.2,407.3 1120.8,396.7 1125.4,386.0 1130.1,375.1 1134.7,364.1 1139.3,353.0 1143.9,341.8 1148.5,330.6 1153.1,319.5 1157.8,308.3 1162.4,297.3 1167.0,286.3 1171.6,275.5 1176.2,264.9 1180.8,254.5 1185.5,244.3 1190.1,234.5 1194.7,225.0 1199.3,215.9 1203.9,207.3 1208.5,199.1 1213.2,191.4 1217.8,184.3 1222.4,177.7 1227.0,171.8 1231.6,166.5 1236.2,161.8 1240.9,157.9 1245.5,154.7 1250.1,152.2 1254.7,150.4 1259.3,149.4 1263.9,149.2 1268.6,149.8 1273.2,151.1 1277.8,153.1 1282.4,155.9 1287.0,159.4 1291.6,163.7 1296.3,168.6 1300.9,174.1 1305.5,180.3 1310.1,187.1 1314.7,194.5 1319.3,202.4 1324.0,210.8 1328.6,219.6 1333.2,228.9 1337.8,238.5 1342.4,248.5 1347.0,258.7 1351.7,269.2 1356.3,280.0 1360.9,290.8 1365.5,301.8 1370.1,312.9 1374.7,324.1 1379.3,335.3 1384.0,346.4 1388.6,357.6 1393.2,368.6 1397.8,379.6 1402.4,390.4 1407.0,401.1 1411.7,411.6 1416.3,422.0 1420.9,432.2 1425.5,442.1 1430.1,451.8 1434.7,461.3 1439.4,470.6 1444.0,479.5 1448.6,488.3 1453.2,496.8 1457.8,505.0 1462.4,512.9 1467.1,520.6 1471.7,528.0 1476.3,535.2 1480.9,542.1 1485.5,548.7 1490.1,555.1 1494.8,561.2 1499.4,567.1 1504.0,572.8 1508.6,578.2 1513.2,583.4 1517.8,588.3 1522.5,593.1 1527.1,597.6 1531.7,602.0 1536.3,606.1 1540.9,610.1 1545.5,613.9 1550.2,617.5 1554.8,620.9 1559.4,624.2 1564.0,627.3 1568.6,630.3 1573.2,633.1 1577.9,635.8 1582.5,638.4 1587.1,640.9 1591.7,643.2 1596.3,645.4 1600.9,647.5 1605.6,649.5 1610.2,651.4 1614.8,653.2 1619.4,654.9 1624.0,656.5 1628.6,658.1 1633.2,659.6 1637.9,661.0 1642.5,662.3 1647.1,663.6 1651.7,664.8 1656.3,665.9 1660.9,667.0 1665.6,668.0 1670.2,669.0 1674.8,669.9 1679.4,670.8 1684.0,671.6 1688.6,672.4 1693.3,673.2 1697.9,673.9 1702.5,674.6 1707.1,675.2 1711.7,675.9 1716.3,676.4 1721.0,677.0 1725.6,677.5 1730.2,678.0"/><polyline points="991.6,640.7 996.2,637.3 1000.8,633.7 1005.4,629.9 1010.0,626.0 1014.7,621.7 1019.3,617.3 1023.9,612.6 1028.5,607.7 1033.1,602.5 1037.7,597.1 1042.4,591.4 1047.0,585.5 1051.6,579.3 1056.2,572.8 1060.8,566.0 1065.4,559.0 1070.1,551.7 1074.7,544.1 1079.3,536.2 1083.9,528.0 1088.5,519.6 1093.1,510.9 1097.7,501.9 1102.4,492.7 1107.0,483.2 1111.6,473.5 1116.2,463.5 1120.8,453.3 1125.4,443.0 1130.1,432.4 1134.7,421.6 1139.3,410.7 1143.9,399.7 1148.5,388.5 1153.1,377.2 1157.8,365.9 1162.4,354.6 1167.0,343.2 1171.6,331.8 1176.2,320.4 1180.8,309.2 1185.5,298.0 1190.1,287.0 1194.7,276.1 1199.3,265.4 1203.9,254.9 1208.5,244.7 1213.2,234.8 1217.8,225.3 1222.4,216.0 1227.0,207.2 1231.6,198.8 1236.2,190.8 1240.9,183.3 1245.5,176.3 1250.1,169.9 1254.7,164.0 1259.3,158.6 1263.9,153.9 1268.6,149.8 1273.2,146.3 1277.8,143.4 1282.4,141.2 1287.0,139.7 1291.6,138.8 1296.3,138.6 1300.9,139.1 1305.5,140.3 1310.1,142.1 1314.7,144.5 1319.3,147.7 1324.0,151.4 1328.6,155.8 1333.2,160.8 1337.8,166.4 1342.4,172.5 1347.0,179.2 1351.7,186.4 1356.3,194.1 1360.9,202.2 1365.5,210.8 1370.1,219.8 1374.7,229.2 1379.3,238.9 1384.0,249.0 1388.6,259.3 1393.2,269.8 1397.8,280.6 1402.4,291.6 1407.0,302.7 1411.7,313.9 1416.3,325.2 1420.9,336.5 1425.5,347.9 1430.1,359.3 1434.7,370.7 1439.4,382.0 1444.0,393.2 1448.6,404.3 1453.2,415.3 1457.8,426.1 1462.4,436.8 1467.1,447.3 1471.7,457.6 1476.3,467.7 1480.9,477.6 1485.5,487.2 1490.1,496.6 1494.8,505.7 1499.4,514.6 1504.0,523.2 1508.6,531.5 1513.2,539.5 1517.8,547.3 1522.5,554.8 1527.1,562.0 1531.7,568.9 1536.3,575.5 1540.9,581.9 1545.5,588.0 1550.2,593.8 1554.8,599.4 1559.4,604.7 1564.0,609.8 1568.6,614.6 1573.2,619.2 1577.9,623.5 1582.5,627.7 1587.1,631.6 1591.7,635.3 1596.3,638.7 1600.9,642.0 1605.6,645.2 1610.2,648.1 1614.8,650.8 1619.4,653.4 1624.0,655.9 1628.6,658.2 1633.2,660.3 1637.9,662.3 1642.5,664.2 1647.1,666.0 1651.7,667.6 1656.3,669.2 1660.9,670.6 1665.6,672.0 1670.2,673.2 1674.8,674.4 1679.4,675.4 1684.0,676.4 1688.6,677.4 1693.3,678.2 1697.9,679.1 1702.5,679.8 1707.1,680.5 1711.7,681.1 1716.3,681.7 1721.0,682.3 1725.6,682.8 1730.2,683.2"/><polyline points="991.6,629.4 996.2,625.4 1000.8,621.2 1005.4,616.8 1010.0,612.1 1014.7,607.2 1019.3,602.0 1023.9,596.6 1028.5,590.9 1033.1,584.9 1037.7,578.7 1042.4,572.2 1047.0,565.3 1051.6,558.2 1056.2,550.8 1060.8,543.1 1065.4,535.2 1070.1,526.9 1074.7,518.3 1079.3,509.4 1083.9,500.3 1088.5,490.8 1093.1,481.1 1097.7,471.2 1102.4,460.9 1107.0,450.5 1111.6,439.8 1116.2,428.8 1120.8,417.7 1125.4,406.5 1130.1,395.0 1134.7,383.4 1139.3,371.7 1143.9,360.0 1148.5,348.1 1153.1,336.3 1157.8,324.4 1162.4,312.6 1167.0,300.9 1171.6,289.2 1176.2,277.7 1180.8,266.3 1185.5,255.2 1190.1,244.3 1194.7,233.7 1199.3,223.4 1203.9,213.4 1208.5,203.9 1213.2,194.7 1217.8,186.1 1222.4,177.9 1227.0,170.2 1231.6,163.1 1236.2,156.6 1240.9,150.7 1245.5,145.4 1250.1,140.8 1254.7,136.8 1259.3,133.6 1263.9,131.0 1268.6,129.2 1273.2,128.1 1277.8,127.7 1282.4,128.0 1287.0,129.1 1291.6,130.9 1296.3,133.4 1300.9,136.6 1305.5,140.5 1310.1,145.1 1314.7,150.3 1319.3,156.2 1324.0,162.7 1328.6,169.7 1333.2,177.4 1337.8,185.5 1342.4,194.2 1347.0,203.3 1351.7,212.8 1356.3,222.7 1360.9,233.0 1365.5,243.6 1370.1,254.5 1374.7,265.6 1379.3,276.9 1384.0,288.4 1388.6,300.1 1393.2,311.8 1397.8,323.7 1402.4,335.5 1407.0,347.4 1411.7,359.2 1416.3,371.0 1420.9,382.7 1425.5,394.3 1430.1,405.7 1434.7,417.0 1439.4,428.1 1444.0,439.0 1448.6,449.8 1453.2,460.2 1457.8,470.5 1462.4,480.5 1467.1,490.2 1471.7,499.7 1476.3,508.8 1480.9,517.7 1485.5,526.3 1490.1,534.6 1494.8,542.6 1499.4,550.3 1504.0,557.8 1508.6,564.9 1513.2,571.7 1517.8,578.3 1522.5,584.5 1527.1,590.5 1531.7,596.2 1536.3,601.7 1540.9,606.8 1545.5,611.8 1550.2,616.5 1554.8,620.9 1559.4,625.1 1564.0,629.1 1568.6,632.9 1573.2,636.5 1577.9,639.8 1582.5,643.0 1587.1,646.0 1591.7,648.8 1596.3,651.5 1600.9,654.0 1605.6,656.3 1610.2,658.5 1614.8,660.6 1619.4,662.5 1624.0,664.4 1628.6,666.1 1633.2,667.6 1637.9,669.1 1642.5,670.5 1647.1,671.8 1651.7,673.0 1656.3,674.1 1660.9,675.2 1665.6,676.2 1670.2,677.1 1674.8,677.9 1679.4,678.7 1684.0,679.4 1688.6,680.1 1693.3,680.8 1697.9,681.3 1702.5,681.9 1707.1,682.4 1711.7,682.9 1716.3,683.3 1721.0,683.7 1725.6,684.1 1730.2,684.4"/><polyline points="991.6,632.4 996.2,628.4 1000.8,624.1 1005.4,619.5 1010.0,614.8 1014.7,609.7 1019.3,604.4 1023.9,598.8 1028.5,593.0 1033.1,586.8 1037.7,580.4 1042.4,573.6 1047.0,566.6 1051.6,559.3 1056.2,551.6 1060.8,543.7 1065.4,535.5 1070.1,526.9 1074.7,518.1 1079.3,509.0 1083.9,499.5 1088.5,489.9 1093.1,479.9 1097.7,469.7 1102.4,459.2 1107.0,448.5 1111.6,437.5 1116.2,426.4 1120.8,415.1 1125.4,403.6 1130.1,391.9 1134.7,380.2 1139.3,368.3 1143.9,356.4 1148.5,344.5 1153.1,332.5 1157.8,320.6 1162.4,308.7 1167.0,296.9 1171.6,285.2 1176.2,273.6 1180.8,262.3 1185.5,251.2 1190.1,240.3 1194.7,229.7 1199.3,219.5 1203.9,209.6 1208.5,200.1 1213.2,191.1 1217.8,182.5 1222.4,174.4 1227.0,166.8 1231.6,159.8 1236.2,153.3 1240.9,147.5 1245.5,142.3 1250.1,137.7 1254.7,133.8 1259.3,130.6 1263.9,128.1 1268.6,126.3 1273.2,125.2 1277.8,124.8 1282.4,125.1 1287.0,126.1 1291.6,127.9 1296.3,130.3 1300.9,133.5 1305.5,137.3 1310.1,141.8 1314.7,146.9 1319.3,152.7 1324.0,159.0 1328.6,166.0 1333.2,173.5 1337.8,181.5 1342.4,190.1 1347.0,199.1 1351.7,208.5 1356.3,218.4 1360.9,228.6 1365.5,239.1 1370.1,250.0 1374.7,261.0 1379.3,272.4 1384.0,283.9 1388.6,295.6 1393.2,307.4 1397.8,319.2 1402.4,331.2 1407.0,343.1 1411.7,355.1 1416.3,367.0 1420.9,378.9 1425.5,390.6 1430.1,402.3 1434.7,413.8 1439.4,425.1 1444.0,436.3 1448.6,447.3 1453.2,458.0 1457.8,468.5 1462.4,478.8 1467.1,488.8 1471.7,498.5 1476.3,507.9 1480.9,517.1 1485.5,526.0 1490.1,534.5 1494.8,542.8 1499.4,550.8 1504.0,558.5 1508.6,565.8 1513.2,572.9 1517.8,579.6 1522.5,586.1 1527.1,592.3 1531.7,598.2 1536.3,603.8 1540.9,609.1 1545.5,614.2 1550.2,619.0 1554.8,623.6 1559.4,627.9 1564.0,632.0 1568.6,635.8 1573.2,639.5 1577.9,642.9 1582.5,646.1 1587.1,649.1 1591.7,652.0 1596.3,654.6 1600.9,657.1 1605.6,659.5 1610.2,661.7 1614.8,663.7 1619.4,665.6 1624.0,667.4 1628.6,669.0 1633.2,670.5 1637.9,672.0 1642.5,673.3 1647.1,674.5 1651.7,675.7 1656.3,676.7 1660.9,677.7 1665.6,678.6 1670.2,679.4 1674.8,680.2 1679.4,680.9 1684.0,681.5 1688.6,682.1 1693.3,682.7 1697.9,683.2 1702.5,683.7 1707.1,684.1 1711.7,684.5 1716.3,684.8 1721.0,685.2 1725.6,685.5 1730.2,685.7"/><polyline points="991.6,633.5 996.2,629.7 1000.8,625.6 1005.4,621.2 1010.0,616.7 1014.7,611.9 1019.3,606.9 1023.9,601.6 1028.5,596.1 1033.1,590.4 1037.7,584.4 1042.4,578.1 1047.0,571.6 1051.6,564.8 1056.2,557.7 1060.8,550.4 1065.4,542.8 1070.1,535.0 1074.7,526.9 1079.3,518.5 1083.9,510.0 1088.5,501.1 1093.1,492.1 1097.7,482.8 1102.4,473.3 1107.0,463.6 1111.6,453.7 1116.2,443.7 1120.8,433.4 1125.4,423.1 1130.1,412.6 1134.7,402.0 1139.3,391.3 1143.9,380.6 1148.5,369.8 1153.1,359.0 1157.8,348.2 1162.4,337.4 1167.0,326.7 1171.6,316.0 1176.2,305.5 1180.8,295.1 1185.5,284.9 1190.1,274.8 1194.7,265.0 1199.3,255.4 1203.9,246.1 1208.5,237.1 1213.2,228.4 1217.8,220.1 1222.4,212.2 1227.0,204.6 1231.6,197.5 1236.2,190.8 1240.9,184.7 1245.5,179.0 1250.1,173.8 1254.7,169.2 1259.3,165.1 1263.9,161.5 1268.6,158.6 1273.2,156.2 1277.8,154.4 1282.4,153.2 1287.0,152.6 1291.6,152.6 1296.3,153.2 1300.9,154.4 1305.5,156.2 1310.1,158.6 1314.7,161.6 1319.3,165.2 1324.0,169.3 1328.6,173.9 1333.2,179.1 1337.8,184.8 1342.4,191.0 1347.0,197.7 1351.7,204.8 1356.3,212.4 1360.9,220.3 1365.5,228.7 1370.1,237.3 1374.7,246.4 1379.3,255.7 1384.0,265.3 1388.6,275.1 1393.2,285.2 1397.8,295.4 1402.4,305.8 1407.0,316.3 1411.7,327.0 1416.3,337.7 1420.9,348.5 1425.5,359.3 1430.1,370.1 1434.7,380.9 1439.4,391.6 1444.0,402.3 1448.6,412.9 1453.2,423.4 1457.8,433.7 1462.4,443.9 1467.1,454.0 1471.7,463.9 1476.3,473.6 1480.9,483.0 1485.5,492.3 1490.1,501.4 1494.8,510.2 1499.4,518.8 1504.0,527.1 1508.6,535.2 1513.2,543.0 1517.8,550.6 1522.5,557.9 1527.1,565.0 1531.7,571.7 1536.3,578.3 1540.9,584.5 1545.5,590.5 1550.2,596.3 1554.8,601.8 1559.4,607.0 1564.0,612.0 1568.6,616.8 1573.2,621.4 1577.9,625.7 1582.5,629.8 1587.1,633.6 1591.7,637.3 1596.3,640.8 1600.9,644.1 1605.6,647.1 1610.2,650.1 1614.8,652.8 1619.4,655.4 1624.0,657.8 1628.6,660.1 1633.2,662.2 1637.9,664.2 1642.5,666.0 1647.1,667.8 1651.7,669.4 1656.3,670.9 1660.9,672.3 1665.6,673.6 1670.2,674.8 1674.8,675.9 1679.4,677.0 1684.0,677.9 1688.6,678.8 1693.3,679.6 1697.9,680.4 1702.5,681.1 1707.1,681.8 1711.7,682.3 1716.3,682.9 1721.0,683.4 1725.6,683.9 1730.2,684.3"/><polyline points="991.6,624.3 996.2,620.2 1000.8,615.9 1005.4,611.5 1010.0,606.8 1014.7,601.9 1019.3,596.8 1023.9,591.4 1028.5,585.9 1033.1,580.1 1037.7,574.0 1042.4,567.8 1047.0,561.3 1051.6,554.6 1056.2,547.6 1060.8,540.4 1065.4,533.0 1070.1,525.3 1074.7,517.5 1079.3,509.4 1083.9,501.1 1088.5,492.6 1093.1,483.9 1097.7,475.0 1102.4,465.9 1107.0,456.6 1111.6,447.2 1116.2,437.7 1120.8,428.0 1125.4,418.3 1130.1,408.4 1134.7,398.4 1139.3,388.4 1143.9,378.4 1148.5,368.3 1153.1,358.2 1157.8,348.2 1162.4,338.1 1167.0,328.2 1171.6,318.4 1176.2,308.7 1180.8,299.1 1185.5,289.7 1190.1,280.4 1194.7,271.4 1199.3,262.7 1203.9,254.2 1208.5,246.0 1213.2,238.1 1217.8,230.6 1222.4,223.4 1227.0,216.6 1231.6,210.2 1236.2,204.2 1240.9,198.7 1245.5,193.6 1250.1,189.1 1254.7,185.0 1259.3,181.4 1263.9,178.4 1268.6,175.8 1273.2,173.8 1277.8,172.4 1282.4,171.5 1287.0,171.2 1291.6,171.4 1296.3,172.1 1300.9,173.5 1305.5,175.3 1310.1,177.7 1314.7,180.7 1319.3,184.1 1324.0,188.1 1328.6,192.5 1333.2,197.5 1337.8,202.9 1342.4,208.8 1347.0,215.1 1351.7,221.8 1356.3,228.8 1360.9,236.3 1365.5,244.1 1370.1,252.2 1374.7,260.7 1379.3,269.4 1384.0,278.3 1388.6,287.5 1393.2,296.9 1397.8,306.4 1402.4,316.1 1407.0,325.9 1411.7,335.8 1416.3,345.8 1420.9,355.9 1425.5,365.9 1430.1,376.0 1434.7,386.1 1439.4,396.1 1444.0,406.1 1448.6,416.0 1453.2,425.8 1457.8,435.5 1462.4,445.0 1467.1,454.5 1471.7,463.7 1476.3,472.9 1480.9,481.8 1485.5,490.5 1490.1,499.1 1494.8,507.5 1499.4,515.6 1504.0,523.5 1508.6,531.2 1513.2,538.7 1517.8,545.9 1522.5,553.0 1527.1,559.7 1531.7,566.3 1536.3,572.6 1540.9,578.7 1545.5,584.5 1550.2,590.1 1554.8,595.5 1559.4,600.7 1564.0,605.7 1568.6,610.4 1573.2,614.9 1577.9,619.2 1582.5,623.3 1587.1,627.2 1591.7,631.0 1596.3,634.5 1600.9,637.9 1605.6,641.0 1610.2,644.1 1614.8,646.9 1619.4,649.6 1624.0,652.2 1628.6,654.6 1633.2,656.8 1637.9,659.0 1642.5,661.0 1647.1,662.9 1651.7,664.7 1656.3,666.3 1660.9,667.9 1665.6,669.4 1670.2,670.7 1674.8,672.0 1679.4,673.2 1684.0,674.3 1688.6,675.4 1693.3,676.4 1697.9,677.3 1702.5,678.1 1707.1,678.9 1711.7,679.6 1716.3,680.3 1721.0,681.0 1725.6,681.6 1730.2,682.1"/><polyline points="991.6,634.1 996.2,630.2 1000.8,626.1 1005.4,621.7 1010.0,617.1 1014.7,612.3 1019.3,607.2 1023.9,601.8 1028.5,596.2 1033.1,590.2 1037.7,584.0 1042.4,577.5 1047.0,570.7 1051.6,563.6 1056.2,556.2 1060.8,548.4 1065.4,540.4 1070.1,532.1 1074.7,523.4 1079.3,514.5 1083.9,505.2 1088.5,495.7 1093.1,485.9 1097.7,475.8 1102.4,465.4 1107.0,454.8 1111.6,443.9 1116.2,432.8 1120.8,421.5 1125.4,410.0 1130.1,398.3 1134.7,386.5 1139.3,374.6 1143.9,362.6 1148.5,350.5 1153.1,338.4 1157.8,326.3 1162.4,314.1 1167.0,302.1 1171.6,290.1 1176.2,278.3 1180.8,266.6 1185.5,255.2 1190.1,244.0 1194.7,233.0 1199.3,222.4 1203.9,212.1 1208.5,202.2 1213.2,192.7 1217.8,183.7 1222.4,175.2 1227.0,167.1 1231.6,159.7 1236.2,152.8 1240.9,146.6 1245.5,141.0 1250.1,136.0 1254.7,131.7 1259.3,128.1 1263.9,125.3 1268.6,123.1 1273.2,121.7 1277.8,121.0 1282.4,121.1 1287.0,121.9 1291.6,123.4 1296.3,125.7 1300.9,128.7 1305.5,132.4 1310.1,136.8 1314.7,141.9 1319.3,147.6 1324.0,154.0 1328.6,161.0 1333.2,168.5 1337.8,176.6 1342.4,185.2 1347.0,194.3 1351.7,203.9 1356.3,213.9 1360.9,224.2 1365.5,234.9 1370.1,245.9 1374.7,257.2 1379.3,268.7 1384.0,280.4 1388.6,292.2 1393.2,304.2 1397.8,316.3 1402.4,328.4 1407.0,340.5 1411.7,352.7 1416.3,364.7 1420.9,376.7 1425.5,388.6 1430.1,400.4 1434.7,412.1 1439.4,423.5 1444.0,434.8 1448.6,445.8 1453.2,456.7 1457.8,467.2 1462.4,477.6 1467.1,487.6 1471.7,497.4 1476.3,506.9 1480.9,516.1 1485.5,525.0 1490.1,533.6 1494.8,541.9 1499.4,549.8 1504.0,557.5 1508.6,564.9 1513.2,571.9 1517.8,578.7 1522.5,585.1 1527.1,591.3 1531.7,597.2 1536.3,602.8 1540.9,608.1 1545.5,613.2 1550.2,618.0 1554.8,622.5 1559.4,626.8 1564.0,630.9 1568.6,634.7 1573.2,638.4 1577.9,641.8 1582.5,645.0 1587.1,648.0 1591.7,650.9 1596.3,653.5 1600.9,656.0 1605.6,658.4 1610.2,660.6 1614.8,662.6 1619.4,664.5 1624.0,666.3 1628.6,668.0 1633.2,669.5 1637.9,671.0 1642.5,672.3 1647.1,673.6 1651.7,674.7 1656.3,675.8 1660.9,676.8 1665.6,677.8 1670.2,678.6 1674.8,679.4 1679.4,680.1 1684.0,680.8 1688.6,681.4 1693.3,682.0 1697.9,682.6 1702.5,683.0 1707.1,683.5 1711.7,683.9 1716.3,684.3 1721.0,684.7 1725.6,685.0 1730.2,685.3"/><polyline points="991.6,611.4 996.2,606.8 1000.8,601.9 1005.4,596.9 1010.0,591.5 1014.7,586.0 1019.3,580.1 1023.9,574.1 1028.5,567.7 1033.1,561.1 1037.7,554.3 1042.4,547.2 1047.0,539.8 1051.6,532.1 1056.2,524.2 1060.8,516.0 1065.4,507.5 1070.1,498.8 1074.7,489.8 1079.3,480.6 1083.9,471.1 1088.5,461.4 1093.1,451.5 1097.7,441.4 1102.4,431.1 1107.0,420.6 1111.6,409.9 1116.2,399.2 1120.8,388.2 1125.4,377.2 1130.1,366.1 1134.7,355.0 1139.3,343.8 1143.9,332.6 1148.5,321.5 1153.1,310.4 1157.8,299.4 1162.4,288.6 1167.0,277.9 1171.6,267.4 1176.2,257.1 1180.8,247.0 1185.5,237.3 1190.1,227.8 1194.7,218.8 1199.3,210.1 1203.9,201.8 1208.5,194.0 1213.2,186.7 1217.8,179.9 1222.4,173.6 1227.0,167.9 1231.6,162.8 1236.2,158.2 1240.9,154.3 1245.5,151.1 1250.1,148.5 1254.7,146.5 1259.3,145.3 1263.9,144.7 1268.6,144.8 1273.2,145.5 1277.8,147.0 1282.4,149.1 1287.0,151.9 1291.6,155.3 1296.3,159.4 1300.9,164.1 1305.5,169.4 1310.1,175.3 1314.7,181.7 1319.3,188.6 1324.0,196.1 1328.6,204.0 1333.2,212.4 1337.8,221.2 1342.4,230.4 1347.0,239.9 1351.7,249.7 1356.3,259.8 1360.9,270.2 1365.5,280.7 1370.1,291.5 1374.7,302.4 1379.3,313.4 1384.0,324.5 1388.6,335.7 1393.2,346.8 1397.8,358.0 1402.4,369.1 1407.0,380.2 1411.7,391.2 1416.3,402.1 1420.9,412.8 1425.5,423.5 1430.1,433.9 1434.7,444.2 1439.4,454.2 1444.0,464.1 1448.6,473.7 1453.2,483.1 1457.8,492.3 1462.4,501.2 1467.1,509.8 1471.7,518.2 1476.3,526.3 1480.9,534.2 1485.5,541.8 1490.1,549.1 1494.8,556.2 1499.4,563.0 1504.0,569.5 1508.6,575.7 1513.2,581.7 1517.8,587.5 1522.5,593.0 1527.1,598.3 1531.7,603.3 1536.3,608.1 1540.9,612.6 1545.5,617.0 1550.2,621.1 1554.8,625.0 1559.4,628.8 1564.0,632.3 1568.6,635.7 1573.2,638.8 1577.9,641.8 1582.5,644.7 1587.1,647.4 1591.7,649.9 1596.3,652.3 1600.9,654.6 1605.6,656.7 1610.2,658.7 1614.8,660.6 1619.4,662.4 1624.0,664.1 1628.6,665.6 1633.2,667.1 1637.9,668.5 1642.5,669.8 1647.1,671.0 1651.7,672.2 1656.3,673.3 1660.9,674.3 1665.6,675.2 1670.2,676.1 1674.8,676.9 1679.4,677.7 1684.0,678.4 1688.6,679.1 1693.3,679.7 1697.9,680.3 1702.5,680.9 1707.1,681.4 1711.7,681.9 1716.3,682.3 1721.0,682.8 1725.6,683.2 1730.2,683.5"/><polyline points="991.6,608.2 996.2,603.8 1000.8,599.2 1005.4,594.4 1010.0,589.4 1014.7,584.2 1019.3,578.8 1023.9,573.3 1028.5,567.5 1033.1,561.4 1037.7,555.2 1042.4,548.8 1047.0,542.2 1051.6,535.3 1056.2,528.3 1060.8,521.0 1065.4,513.6 1070.1,505.9 1074.7,498.1 1079.3,490.1 1083.9,481.9 1088.5,473.5 1093.1,465.0 1097.7,456.3 1102.4,447.4 1107.0,438.5 1111.6,429.4 1116.2,420.3 1120.8,411.0 1125.4,401.7 1130.1,392.3 1134.7,382.9 1139.3,373.4 1143.9,364.0 1148.5,354.6 1153.1,345.2 1157.8,335.9 1162.4,326.7 1167.0,317.6 1171.6,308.6 1176.2,299.8 1180.8,291.1 1185.5,282.7 1190.1,274.4 1194.7,266.5 1199.3,258.8 1203.9,251.4 1208.5,244.3 1213.2,237.5 1217.8,231.1 1222.4,225.1 1227.0,219.5 1231.6,214.3 1236.2,209.6 1240.9,205.2 1245.5,201.4 1250.1,198.0 1254.7,195.1 1259.3,192.8 1263.9,190.9 1268.6,189.5 1273.2,188.7 1277.8,188.3 1282.4,188.5 1287.0,189.3 1291.6,190.5 1296.3,192.2 1300.9,194.5 1305.5,197.2 1310.1,200.5 1314.7,204.2 1319.3,208.4 1324.0,213.1 1328.6,218.2 1333.2,223.7 1337.8,229.6 1342.4,235.9 1347.0,242.5 1351.7,249.5 1356.3,256.9 1360.9,264.5 1365.5,272.4 1370.1,280.6 1374.7,288.9 1379.3,297.5 1384.0,306.3 1388.6,315.3 1393.2,324.4 1397.8,333.6 1402.4,342.8 1407.0,352.2 1411.7,361.6 1416.3,371.0 1420.9,380.5 1425.5,389.9 1430.1,399.3 1434.7,408.6 1439.4,417.9 1444.0,427.1 1448.6,436.2 1453.2,445.2 1457.8,454.0 1462.4,462.8 1467.1,471.3 1471.7,479.7 1476.3,488.0 1480.9,496.1 1485.5,504.0 1490.1,511.6 1494.8,519.2 1499.4,526.5 1504.0,533.6 1508.6,540.5 1513.2,547.1 1517.8,553.6 1522.5,559.9 1527.1,566.0 1531.7,571.8 1536.3,577.4 1540.9,582.9 1545.5,588.1 1550.2,593.2 1554.8,598.0 1559.4,602.6 1564.0,607.1 1568.6,611.3 1573.2,615.4 1577.9,619.3 1582.5,623.1 1587.1,626.6 1591.7,630.0 1596.3,633.3 1600.9,636.3 1605.6,639.3 1610.2,642.1 1614.8,644.7 1619.4,647.3 1624.0,649.6 1628.6,651.9 1633.2,654.1 1637.9,656.1 1642.5,658.0 1647.1,659.9 1651.7,661.6 1656.3,663.2 1660.9,664.8 1665.6,666.2 1670.2,667.6 1674.8,668.9 1679.4,670.1 1684.0,671.3 1688.6,672.3 1693.3,673.4 1697.9,674.3 1702.5,675.2 1707.1,676.1 1711.7,676.9 1716.3,677.6 1721.0,678.3 1725.6,679.0 1730.2,679.6"/><polyline points="991.6,622.9 996.2,618.8 1000.8,614.6 1005.4,610.1 1010.0,605.4 1014.7,600.5 1019.3,595.4 1023.9,590.0 1028.5,584.4 1033.1,578.6 1037.7,572.5 1042.4,566.1 1047.0,559.5 1051.6,552.7 1056.2,545.6 1060.8,538.3 1065.4,530.7 1070.1,522.8 1074.7,514.7 1079.3,506.4 1083.9,497.8 1088.5,489.0 1093.1,479.9 1097.7,470.7 1102.4,461.2 1107.0,451.5 1111.6,441.7 1116.2,431.7 1120.8,421.5 1125.4,411.2 1130.1,400.7 1134.7,390.2 1139.3,379.6 1143.9,368.9 1148.5,358.2 1153.1,347.5 1157.8,336.8 1162.4,326.2 1167.0,315.6 1171.6,305.1 1176.2,294.7 1180.8,284.5 1185.5,274.5 1190.1,264.7 1194.7,255.1 1199.3,245.8 1203.9,236.8 1208.5,228.2 1213.2,219.9 1217.8,212.0 1222.4,204.5 1227.0,197.5 1231.6,191.0 1236.2,184.9 1240.9,179.4 1245.5,174.4 1250.1,169.9 1254.7,166.1 1259.3,162.8 1263.9,160.1 1268.6,158.0 1273.2,156.6 1277.8,155.8 1282.4,155.6 1287.0,156.0 1291.6,157.1 1296.3,158.8 1300.9,161.1 1305.5,164.0 1310.1,167.5 1314.7,171.6 1319.3,176.2 1324.0,181.5 1328.6,187.2 1333.2,193.4 1337.8,200.2 1342.4,207.4 1347.0,215.0 1351.7,223.1 1356.3,231.5 1360.9,240.3 1365.5,249.4 1370.1,258.8 1374.7,268.4 1379.3,278.3 1384.0,288.4 1388.6,298.7 1393.2,309.1 1397.8,319.7 1402.4,330.3 1407.0,341.0 1411.7,351.7 1416.3,362.4 1420.9,373.1 1425.5,383.7 1430.1,394.3 1434.7,404.8 1439.4,415.2 1444.0,425.4 1448.6,435.6 1453.2,445.5 1457.8,455.3 1462.4,464.9 1467.1,474.3 1471.7,483.4 1476.3,492.4 1480.9,501.1 1485.5,509.6 1490.1,517.9 1494.8,525.9 1499.4,533.6 1504.0,541.1 1508.6,548.4 1513.2,555.4 1517.8,562.1 1522.5,568.6 1527.1,574.9 1531.7,580.8 1536.3,586.6 1540.9,592.1 1545.5,597.4 1550.2,602.4 1554.8,607.2 1559.4,611.8 1564.0,616.2 1568.6,620.4 1573.2,624.4 1577.9,628.1 1582.5,631.7 1587.1,635.1 1591.7,638.4 1596.3,641.4 1600.9,644.3 1605.6,647.0 1610.2,649.6 1614.8,652.1 1619.4,654.4 1624.0,656.6 1628.6,658.6 1633.2,660.5 1637.9,662.4 1642.5,664.1 1647.1,665.7 1651.7,667.2 1656.3,668.6 1660.9,669.9 1665.6,671.2 1670.2,672.3 1674.8,673.4 1679.4,674.5 1684.0,675.4 1688.6,676.3 1693.3,677.2 1697.9,678.0 1702.5,678.7 1707.1,679.4 1711.7,680.0 1716.3,680.6 1721.0,681.2 1725.6,681.7 1730.2,682.2"/></g>
<g fill="none" stroke="#f01418" stroke-width="2.4"><rect x="1053.7" y="173.6" width="76.7" height="514.9"/><rect x="1130.4" y="219.6" width="76.7" height="468.9"/><rect x="1207.1" y="150.8" width="76.7" height="537.7"/><rect x="1283.8" y="267.3" width="76.7" height="421.2"/><rect x="1360.5" y="383.3" width="76.7" height="305.2"/><rect x="1437.2" y="617.0" width="76.7" height="71.5"/><rect x="1513.9" y="594.9" width="76.7" height="93.6"/><rect x="1590.6" y="665.2" width="76.7" height="23.3"/></g>
<line x1="991.6" y1="688.5" x2="1730.2" y2="688.5" stroke="#f01418" stroke-width="2.4"/>
<rect x="963.6" y="43.6" width="794.2" height="669" fill="none" stroke="#555" stroke-width="1.5"/>
<line x1="1053.7" y1="712.6" x2="1053.7" y2="723.8" stroke="#555" stroke-width="1.5" stroke-linecap="butt"/>
<text x="1053.1" y="748.4" font-size="19.5" text-anchor="middle" font-weight="normal" fill="#333" font-family="'Liberation Sans', Arial, sans-serif" >-2</text>
<line x1="1207.1" y1="712.6" x2="1207.1" y2="723.8" stroke="#555" stroke-width="1.5" stroke-linecap="butt"/>
<text x="1206.5" y="748.4" font-size="19.5" text-anchor="middle" font-weight="normal" fill="#333" font-family="'Liberation Sans', Arial, sans-serif" >0</text>
<line x1="1360.5" y1="712.6" x2="1360.5" y2="723.8" stroke="#555" stroke-width="1.5" stroke-linecap="butt"/>
<text x="1359.9" y="748.4" font-size="19.5" text-anchor="middle" font-weight="normal" fill="#333" font-family="'Liberation Sans', Arial, sans-serif" >2</text>
<line x1="1513.9" y1="712.6" x2="1513.9" y2="723.8" stroke="#555" stroke-width="1.5" stroke-linecap="butt"/>
<text x="1513.3" y="748.4" font-size="19.5" text-anchor="middle" font-weight="normal" fill="#333" font-family="'Liberation Sans', Arial, sans-serif" >4</text>
<line x1="1667.3" y1="712.6" x2="1667.3" y2="723.8" stroke="#555" stroke-width="1.5" stroke-linecap="butt"/>
<text x="1666.7" y="748.4" font-size="19.5" text-anchor="middle" font-weight="normal" fill="#333" font-family="'Liberation Sans', Arial, sans-serif" >6</text>
<text x="1360" y="777" font-size="30" text-anchor="middle" font-weight="normal" fill="#222" font-family="'Liberation Sans', Arial, sans-serif" >y</text>
<line x1="953.2" y1="688.5" x2="963.6" y2="688.5" stroke="#555" stroke-width="1.5"/>
<text x="0" y="0" font-size="19.5" text-anchor="middle" fill="#333" font-family="'Liberation Sans', Arial, sans-serif" transform="translate(944.2 688.5) rotate(-90)">0.00</text>
<line x1="953.2" y1="566.9" x2="963.6" y2="566.9" stroke="#555" stroke-width="1.5"/>
<text x="0" y="0" font-size="19.5" text-anchor="middle" fill="#333" font-family="'Liberation Sans', Arial, sans-serif" transform="translate(944.2 566.9) rotate(-90)">0.05</text>
<line x1="953.2" y1="445.3" x2="963.6" y2="445.3" stroke="#555" stroke-width="1.5"/>
<text x="0" y="0" font-size="19.5" text-anchor="middle" fill="#333" font-family="'Liberation Sans', Arial, sans-serif" transform="translate(944.2 445.3) rotate(-90)">0.10</text>
<line x1="953.2" y1="323.7" x2="963.6" y2="323.7" stroke="#555" stroke-width="1.5"/>
<text x="0" y="0" font-size="19.5" text-anchor="middle" fill="#333" font-family="'Liberation Sans', Arial, sans-serif" transform="translate(944.2 323.7) rotate(-90)">0.15</text>
<line x1="953.2" y1="202.1" x2="963.6" y2="202.1" stroke="#555" stroke-width="1.5"/>
<text x="0" y="0" font-size="19.5" text-anchor="middle" fill="#333" font-family="'Liberation Sans', Arial, sans-serif" transform="translate(944.2 202.1) rotate(-90)">0.20</text>
<line x1="953.2" y1="80.5" x2="963.6" y2="80.5" stroke="#555" stroke-width="1.5"/>
<text x="0" y="0" font-size="19.5" text-anchor="middle" fill="#333" font-family="'Liberation Sans', Arial, sans-serif" transform="translate(944.2 80.5) rotate(-90)">0.25</text>
<text x="0" y="0" font-size="30" text-anchor="middle" fill="#222" font-family="'Liberation Sans', Arial, sans-serif" transform="translate(910.2 377.4) rotate(-90)" textLength="52" lengthAdjust="spacing">p(y)</text>
</svg></body></html>
